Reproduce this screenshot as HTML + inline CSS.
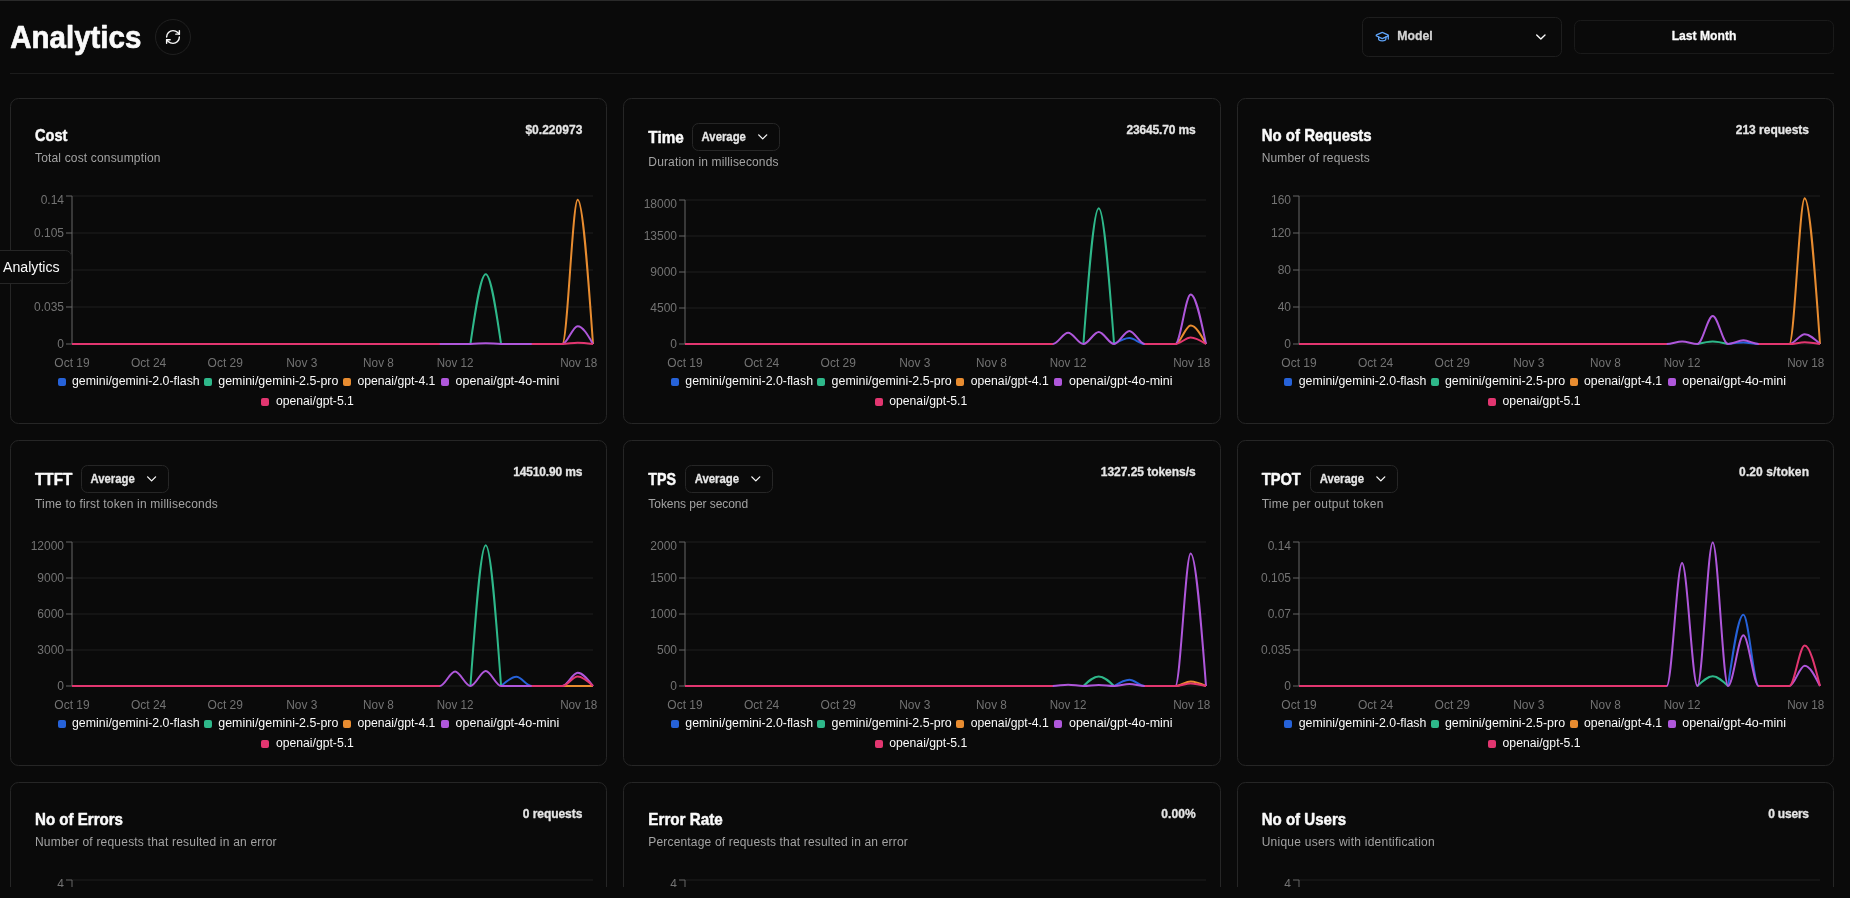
<!DOCTYPE html>
<html><head><meta charset="utf-8"><title>Analytics</title>
<style>html,body{margin:0;padding:0;background:#0a0a0a;overflow:hidden;width:1850px;height:898px}svg{display:block;will-change:transform}</style>
</head><body>
<svg width="1850" height="898" viewBox="0 0 1850 898" font-family="'Liberation Sans', sans-serif">
<rect width="1850" height="898" fill="#0a0a0a"/>
<rect width="1850" height="1" fill="#2a2a2a"/>
<text x="10.30" y="48.00" font-size="31" font-weight="700" fill="#fafafa" textLength="131.00" lengthAdjust="spacingAndGlyphs" stroke="#fafafa" stroke-width="0.7" stroke-linejoin="round">Analytics</text>
<circle cx="173" cy="37" r="17.5" fill="none" stroke="#202020"/>
<g transform="translate(164.50,28.50) scale(0.7083)" fill="none" stroke="#fafafa" stroke-width="2" stroke-linecap="round" stroke-linejoin="round"><path d="M3 12a9 9 0 0 1 9-9 9.75 9.75 0 0 1 6.74 2.74L21 8"/><path d="M21 3v5h-5"/><path d="M21 12a9 9 0 0 1-9 9 9.75 9.75 0 0 1-6.74-2.74L3 16"/><path d="M8 16H3v5"/></g>
<rect x="1362.5" y="17.5" width="199" height="39" rx="6" fill="none" stroke="#1e1e1e"/>
<g transform="translate(1375,29.45) scale(0.6042)" fill="none" stroke="#60a5fa" stroke-width="2.1" stroke-linecap="round" stroke-linejoin="round"><path d="M21.42 10.922a1 1 0 0 0-.019-1.838L12.83 5.18a2 2 0 0 0-1.66 0L2.6 9.08a1 1 0 0 0 0 1.832l8.57 3.908a2 2 0 0 0 1.66 0z"/><path d="M22 10v6"/><path d="M6 12.5V16a6 3 0 0 0 12 0v-3.5"/></g>
<text x="1397.30" y="40.10" font-size="12" font-weight="700" fill="#d4d4d4" textLength="35.40" lengthAdjust="spacingAndGlyphs" stroke="#d4d4d4" stroke-width="0.3" stroke-linejoin="round">Model</text>
<polyline points="1536.7,35 1540.85,39.1 1545,35" fill="none" stroke="#fafafa" stroke-width="1.35" stroke-linecap="round" stroke-linejoin="round"/>
<rect x="1574.5" y="20.5" width="259" height="33" rx="6" fill="none" stroke="#1a1a1a"/>
<text x="1704.00" y="40.10" font-size="12" font-weight="700" fill="#fafafa" text-anchor="middle" textLength="64.70" lengthAdjust="spacingAndGlyphs" stroke="#fafafa" stroke-width="0.3" stroke-linejoin="round">Last Month</text>
<rect x="10" y="73" width="1824" height="1" fill="#1c1c1c"/>
<defs><clipPath id="cl"><rect x="0" y="74" width="1850" height="813"/></clipPath></defs>
<g clip-path="url(#cl)">
<rect x="10.50" y="98.50" width="596.00" height="325" rx="8" fill="#0a0a0a" stroke="#262626"/>
<text x="35.00" y="141.00" font-size="17" font-weight="700" fill="#fafafa" textLength="32.40" lengthAdjust="spacingAndGlyphs" stroke="#fafafa" stroke-width="0.5" stroke-linejoin="round">Cost</text>
<text x="582.33" y="134.10" font-size="12" font-weight="700" fill="#e5e5e5" text-anchor="end" textLength="56.90" lengthAdjust="spacing" stroke="#e5e5e5" stroke-width="0.3" stroke-linejoin="round">$0.220973</text>
<text x="35.00" y="162.20" font-size="12" fill="#a3a3a3" textLength="125.50" lengthAdjust="spacing">Total cost consumption</text>
<line x1="72.00" y1="344.00" x2="593.00" y2="344.00" stroke="#1f1f1f"/>
<line x1="72.00" y1="307.00" x2="593.00" y2="307.00" stroke="#1f1f1f"/>
<line x1="72.00" y1="270.00" x2="593.00" y2="270.00" stroke="#1f1f1f"/>
<line x1="72.00" y1="233.00" x2="593.00" y2="233.00" stroke="#1f1f1f"/>
<line x1="72.00" y1="196.00" x2="593.00" y2="196.00" stroke="#1f1f1f"/>
<line x1="72.00" y1="196.00" x2="72.00" y2="344.00" stroke="#666666"/>
<line x1="66.00" y1="344.00" x2="72.00" y2="344.00" stroke="#666666"/>
<text x="64.00" y="348.30" font-size="12" fill="#737373" text-anchor="end">0</text>
<line x1="66.00" y1="307.00" x2="72.00" y2="307.00" stroke="#666666"/>
<text x="64.00" y="311.30" font-size="12" fill="#737373" text-anchor="end">0.035</text>
<line x1="66.00" y1="270.00" x2="72.00" y2="270.00" stroke="#666666"/>
<text x="64.00" y="274.30" font-size="12" fill="#737373" text-anchor="end">0.07</text>
<line x1="66.00" y1="233.00" x2="72.00" y2="233.00" stroke="#666666"/>
<text x="64.00" y="237.30" font-size="12" fill="#737373" text-anchor="end">0.105</text>
<line x1="66.00" y1="196.00" x2="72.00" y2="196.00" stroke="#666666"/>
<text x="64.00" y="204.30" font-size="12" fill="#737373" text-anchor="end">0.14</text>
<text x="72.00" y="367.00" font-size="12" fill="#737373" text-anchor="middle" textLength="35.30" lengthAdjust="spacingAndGlyphs">Oct 19</text>
<text x="148.62" y="367.00" font-size="12" fill="#737373" text-anchor="middle" textLength="35.40" lengthAdjust="spacingAndGlyphs">Oct 24</text>
<text x="225.24" y="367.00" font-size="12" fill="#737373" text-anchor="middle" textLength="35.30" lengthAdjust="spacingAndGlyphs">Oct 29</text>
<text x="301.85" y="367.00" font-size="12" fill="#737373" text-anchor="middle" textLength="31.20" lengthAdjust="spacingAndGlyphs">Nov 3</text>
<text x="378.47" y="367.00" font-size="12" fill="#737373" text-anchor="middle" textLength="30.70" lengthAdjust="spacingAndGlyphs">Nov 8</text>
<text x="455.09" y="367.00" font-size="12" fill="#737373" text-anchor="middle" textLength="36.70" lengthAdjust="spacingAndGlyphs">Nov 12</text>
<text x="578.68" y="367.00" font-size="12" fill="#737373" text-anchor="middle" textLength="37.10" lengthAdjust="spacingAndGlyphs">Nov 18</text>
<path d="M72.00,344.00C77.11,344.00 82.22,344.00 87.32,344.00C92.43,344.00 97.54,344.00 102.65,344.00C107.75,344.00 112.86,344.00 117.97,344.00C123.08,344.00 128.19,344.00 133.29,344.00C138.40,344.00 143.51,344.00 148.62,344.00C153.73,344.00 158.83,344.00 163.94,344.00C169.05,344.00 174.16,344.00 179.26,344.00C184.37,344.00 189.48,344.00 194.59,344.00C199.70,344.00 204.80,344.00 209.91,344.00C215.02,344.00 220.13,344.00 225.24,344.00C230.34,344.00 235.45,344.00 240.56,344.00C245.67,344.00 250.77,344.00 255.88,344.00C260.99,344.00 266.10,344.00 271.21,344.00C276.31,344.00 281.42,344.00 286.53,344.00C291.64,344.00 296.75,344.00 301.85,344.00C306.96,344.00 312.07,344.00 317.18,344.00C322.28,344.00 327.39,344.00 332.50,344.00C337.61,344.00 342.72,344.00 347.82,344.00C352.93,344.00 358.04,344.00 363.15,344.00C368.25,344.00 373.36,344.00 378.47,344.00C383.58,344.00 388.69,344.00 393.79,344.00C398.90,344.00 404.01,344.00 409.12,344.00C414.23,344.00 419.33,344.00 424.44,344.00C429.55,344.00 434.66,344.00 439.76,344.00" fill="none" stroke="#2662d9" stroke-width="2"/>
<path d="M501.06,344.00C506.17,344.00 511.27,344.00 516.38,344.00C521.49,344.00 526.60,344.00 531.71,344.00C536.81,344.00 541.92,344.00 547.03,344.00C552.14,344.00 557.25,344.00 562.35,344.00" fill="none" stroke="#2662d9" stroke-width="2"/>
<path d="M72.00,344.00C77.11,344.00 82.22,344.00 87.32,344.00C92.43,344.00 97.54,344.00 102.65,344.00C107.75,344.00 112.86,344.00 117.97,344.00C123.08,344.00 128.19,344.00 133.29,344.00C138.40,344.00 143.51,344.00 148.62,344.00C153.73,344.00 158.83,344.00 163.94,344.00C169.05,344.00 174.16,344.00 179.26,344.00C184.37,344.00 189.48,344.00 194.59,344.00C199.70,344.00 204.80,344.00 209.91,344.00C215.02,344.00 220.13,344.00 225.24,344.00C230.34,344.00 235.45,344.00 240.56,344.00C245.67,344.00 250.77,344.00 255.88,344.00C260.99,344.00 266.10,344.00 271.21,344.00C276.31,344.00 281.42,344.00 286.53,344.00C291.64,344.00 296.75,344.00 301.85,344.00C306.96,344.00 312.07,344.00 317.18,344.00C322.28,344.00 327.39,344.00 332.50,344.00C337.61,344.00 342.72,344.00 347.82,344.00C352.93,344.00 358.04,344.00 363.15,344.00C368.25,344.00 373.36,344.00 378.47,344.00C383.58,344.00 388.69,344.00 393.79,344.00C398.90,344.00 404.01,344.00 409.12,344.00C414.23,344.00 419.33,344.00 424.44,344.00C429.55,344.00 434.66,344.00 439.76,344.00" fill="none" stroke="#2eb88a" stroke-width="2"/>
<path d="M470.41,344.00C475.52,309.10 480.63,274.20 485.74,274.20C490.84,274.20 495.95,309.10 501.06,344.00" fill="none" stroke="#2eb88a" stroke-width="2"/>
<path d="M531.71,344.00C536.81,344.00 541.92,344.00 547.03,344.00C552.14,344.00 557.25,344.00 562.35,344.00" fill="none" stroke="#2eb88a" stroke-width="2"/>
<path d="M72.00,344.00C77.11,344.00 82.22,344.00 87.32,344.00C92.43,344.00 97.54,344.00 102.65,344.00C107.75,344.00 112.86,344.00 117.97,344.00C123.08,344.00 128.19,344.00 133.29,344.00C138.40,344.00 143.51,344.00 148.62,344.00C153.73,344.00 158.83,344.00 163.94,344.00C169.05,344.00 174.16,344.00 179.26,344.00C184.37,344.00 189.48,344.00 194.59,344.00C199.70,344.00 204.80,344.00 209.91,344.00C215.02,344.00 220.13,344.00 225.24,344.00C230.34,344.00 235.45,344.00 240.56,344.00C245.67,344.00 250.77,344.00 255.88,344.00C260.99,344.00 266.10,344.00 271.21,344.00C276.31,344.00 281.42,344.00 286.53,344.00C291.64,344.00 296.75,344.00 301.85,344.00C306.96,344.00 312.07,344.00 317.18,344.00C322.28,344.00 327.39,344.00 332.50,344.00C337.61,344.00 342.72,344.00 347.82,344.00C352.93,344.00 358.04,344.00 363.15,344.00C368.25,344.00 373.36,344.00 378.47,344.00C383.58,344.00 388.69,344.00 393.79,344.00C398.90,344.00 404.01,344.00 409.12,344.00C414.23,344.00 419.33,344.00 424.44,344.00C429.55,344.00 434.66,344.00 439.76,344.00" fill="none" stroke="#e88c30" stroke-width="2"/>
<path d="M531.71,344.00C536.81,344.00 541.92,344.00 547.03,344.00C552.14,344.00 557.25,344.00 562.35,344.00C567.46,344.00 572.57,199.80 577.68,199.80C582.78,199.80 587.89,271.90 593.00,344.00" fill="none" stroke="#e88c30" stroke-width="2"/>
<path d="M72.00,344.00C77.11,344.00 82.22,344.00 87.32,344.00C92.43,344.00 97.54,344.00 102.65,344.00C107.75,344.00 112.86,344.00 117.97,344.00C123.08,344.00 128.19,344.00 133.29,344.00C138.40,344.00 143.51,344.00 148.62,344.00C153.73,344.00 158.83,344.00 163.94,344.00C169.05,344.00 174.16,344.00 179.26,344.00C184.37,344.00 189.48,344.00 194.59,344.00C199.70,344.00 204.80,344.00 209.91,344.00C215.02,344.00 220.13,344.00 225.24,344.00C230.34,344.00 235.45,344.00 240.56,344.00C245.67,344.00 250.77,344.00 255.88,344.00C260.99,344.00 266.10,344.00 271.21,344.00C276.31,344.00 281.42,344.00 286.53,344.00C291.64,344.00 296.75,344.00 301.85,344.00C306.96,344.00 312.07,344.00 317.18,344.00C322.28,344.00 327.39,344.00 332.50,344.00C337.61,344.00 342.72,344.00 347.82,344.00C352.93,344.00 358.04,344.00 363.15,344.00C368.25,344.00 373.36,344.00 378.47,344.00C383.58,344.00 388.69,344.00 393.79,344.00C398.90,344.00 404.01,344.00 409.12,344.00C414.23,344.00 419.33,344.00 424.44,344.00C429.55,344.00 434.66,344.00 439.76,344.00C444.87,344.00 449.98,344.00 455.09,344.00C460.20,344.00 465.30,344.00 470.41,344.00C475.52,344.00 480.63,343.20 485.74,343.20C490.84,343.20 495.95,344.00 501.06,344.00C506.17,344.00 511.27,344.00 516.38,344.00C521.49,344.00 526.60,344.00 531.71,344.00C536.81,344.00 541.92,344.00 547.03,344.00C552.14,344.00 557.25,344.00 562.35,344.00C567.46,344.00 572.57,326.20 577.68,326.20C582.78,326.20 587.89,335.10 593.00,344.00" fill="none" stroke="#af57db" stroke-width="2"/>
<path d="M72.00,344.00C77.11,344.00 82.22,344.00 87.32,344.00C92.43,344.00 97.54,344.00 102.65,344.00C107.75,344.00 112.86,344.00 117.97,344.00C123.08,344.00 128.19,344.00 133.29,344.00C138.40,344.00 143.51,344.00 148.62,344.00C153.73,344.00 158.83,344.00 163.94,344.00C169.05,344.00 174.16,344.00 179.26,344.00C184.37,344.00 189.48,344.00 194.59,344.00C199.70,344.00 204.80,344.00 209.91,344.00C215.02,344.00 220.13,344.00 225.24,344.00C230.34,344.00 235.45,344.00 240.56,344.00C245.67,344.00 250.77,344.00 255.88,344.00C260.99,344.00 266.10,344.00 271.21,344.00C276.31,344.00 281.42,344.00 286.53,344.00C291.64,344.00 296.75,344.00 301.85,344.00C306.96,344.00 312.07,344.00 317.18,344.00C322.28,344.00 327.39,344.00 332.50,344.00C337.61,344.00 342.72,344.00 347.82,344.00C352.93,344.00 358.04,344.00 363.15,344.00C368.25,344.00 373.36,344.00 378.47,344.00C383.58,344.00 388.69,344.00 393.79,344.00C398.90,344.00 404.01,344.00 409.12,344.00C414.23,344.00 419.33,344.00 424.44,344.00C429.55,344.00 434.66,344.00 439.76,344.00" fill="none" stroke="#e23670" stroke-width="2"/>
<path d="M531.71,344.00C536.81,344.00 541.92,344.00 547.03,344.00C552.14,344.00 557.25,344.00 562.35,344.00C567.46,344.00 572.57,342.70 577.68,342.70C582.78,342.70 587.89,343.35 593.00,344.00" fill="none" stroke="#e23670" stroke-width="2"/>
<rect x="58.00" y="378.00" width="8" height="8" rx="2" fill="#2662d9"/>
<text x="72.00" y="385.00" font-size="12" fill="#fafafa" textLength="127.70" lengthAdjust="spacingAndGlyphs">gemini/gemini-2.0-flash</text>
<rect x="204.00" y="378.00" width="8" height="8" rx="2" fill="#2eb88a"/>
<text x="218.30" y="385.00" font-size="12" fill="#fafafa" textLength="120.10" lengthAdjust="spacingAndGlyphs">gemini/gemini-2.5-pro</text>
<rect x="343.00" y="378.00" width="8" height="8" rx="2" fill="#e88c30"/>
<text x="357.40" y="385.00" font-size="12" fill="#fafafa" textLength="78.00" lengthAdjust="spacingAndGlyphs">openai/gpt-4.1</text>
<rect x="441.00" y="378.00" width="8" height="8" rx="2" fill="#af57db"/>
<text x="455.60" y="385.00" font-size="12" fill="#fafafa" textLength="103.70" lengthAdjust="spacingAndGlyphs">openai/gpt-4o-mini</text>
<rect x="261.00" y="398.00" width="8" height="8" rx="2" fill="#e23670"/>
<text x="275.90" y="404.80" font-size="12" fill="#fafafa" textLength="78.00" lengthAdjust="spacingAndGlyphs">openai/gpt-5.1</text>
<rect x="623.50" y="98.50" width="597.00" height="325" rx="8" fill="#0a0a0a" stroke="#262626"/>
<text x="648.33" y="142.60" font-size="17" font-weight="700" fill="#fafafa" textLength="35.40" lengthAdjust="spacingAndGlyphs" stroke="#fafafa" stroke-width="0.5" stroke-linejoin="round">Time</text>
<text x="1195.67" y="134.10" font-size="12" font-weight="700" fill="#e5e5e5" text-anchor="end" textLength="69.20" lengthAdjust="spacing" stroke="#e5e5e5" stroke-width="0.3" stroke-linejoin="round">23645.70 ms</text>
<text x="648.33" y="165.80" font-size="12" fill="#a3a3a3" textLength="130.20" lengthAdjust="spacing">Duration in milliseconds</text>
<rect x="692.50" y="123.50" width="87" height="27" rx="6" fill="none" stroke="#262626"/>
<text x="701.60" y="141.00" font-size="12" font-weight="700" fill="#e5e5e5" textLength="44.30" lengthAdjust="spacingAndGlyphs" stroke="#e5e5e5" stroke-width="0.3" stroke-linejoin="round">Average</text>
<polyline points="758.70,134.90 762.70,138.90 766.70,134.90" fill="none" stroke="#fafafa" stroke-width="1.3" stroke-linecap="round" stroke-linejoin="round"/>
<line x1="685.00" y1="344.00" x2="1206.00" y2="344.00" stroke="#1f1f1f"/>
<line x1="685.00" y1="308.00" x2="1206.00" y2="308.00" stroke="#1f1f1f"/>
<line x1="685.00" y1="272.00" x2="1206.00" y2="272.00" stroke="#1f1f1f"/>
<line x1="685.00" y1="236.00" x2="1206.00" y2="236.00" stroke="#1f1f1f"/>
<line x1="685.00" y1="200.00" x2="1206.00" y2="200.00" stroke="#1f1f1f"/>
<line x1="685.00" y1="200.00" x2="685.00" y2="344.00" stroke="#666666"/>
<line x1="679.00" y1="344.00" x2="685.00" y2="344.00" stroke="#666666"/>
<text x="677.00" y="348.30" font-size="12" fill="#737373" text-anchor="end">0</text>
<line x1="679.00" y1="308.00" x2="685.00" y2="308.00" stroke="#666666"/>
<text x="677.00" y="312.30" font-size="12" fill="#737373" text-anchor="end">4500</text>
<line x1="679.00" y1="272.00" x2="685.00" y2="272.00" stroke="#666666"/>
<text x="677.00" y="276.30" font-size="12" fill="#737373" text-anchor="end">9000</text>
<line x1="679.00" y1="236.00" x2="685.00" y2="236.00" stroke="#666666"/>
<text x="677.00" y="240.30" font-size="12" fill="#737373" text-anchor="end">13500</text>
<line x1="679.00" y1="200.00" x2="685.00" y2="200.00" stroke="#666666"/>
<text x="677.00" y="208.30" font-size="12" fill="#737373" text-anchor="end">18000</text>
<text x="685.00" y="367.00" font-size="12" fill="#737373" text-anchor="middle" textLength="35.30" lengthAdjust="spacingAndGlyphs">Oct 19</text>
<text x="761.62" y="367.00" font-size="12" fill="#737373" text-anchor="middle" textLength="35.40" lengthAdjust="spacingAndGlyphs">Oct 24</text>
<text x="838.24" y="367.00" font-size="12" fill="#737373" text-anchor="middle" textLength="35.30" lengthAdjust="spacingAndGlyphs">Oct 29</text>
<text x="914.85" y="367.00" font-size="12" fill="#737373" text-anchor="middle" textLength="31.20" lengthAdjust="spacingAndGlyphs">Nov 3</text>
<text x="991.47" y="367.00" font-size="12" fill="#737373" text-anchor="middle" textLength="30.70" lengthAdjust="spacingAndGlyphs">Nov 8</text>
<text x="1068.09" y="367.00" font-size="12" fill="#737373" text-anchor="middle" textLength="36.70" lengthAdjust="spacingAndGlyphs">Nov 12</text>
<text x="1191.68" y="367.00" font-size="12" fill="#737373" text-anchor="middle" textLength="37.10" lengthAdjust="spacingAndGlyphs">Nov 18</text>
<path d="M685.00,344.00C690.11,344.00 695.22,344.00 700.32,344.00C705.43,344.00 710.54,344.00 715.65,344.00C720.75,344.00 725.86,344.00 730.97,344.00C736.08,344.00 741.19,344.00 746.29,344.00C751.40,344.00 756.51,344.00 761.62,344.00C766.73,344.00 771.83,344.00 776.94,344.00C782.05,344.00 787.16,344.00 792.26,344.00C797.37,344.00 802.48,344.00 807.59,344.00C812.70,344.00 817.80,344.00 822.91,344.00C828.02,344.00 833.13,344.00 838.24,344.00C843.34,344.00 848.45,344.00 853.56,344.00C858.67,344.00 863.77,344.00 868.88,344.00C873.99,344.00 879.10,344.00 884.21,344.00C889.31,344.00 894.42,344.00 899.53,344.00C904.64,344.00 909.75,344.00 914.85,344.00C919.96,344.00 925.07,344.00 930.18,344.00C935.28,344.00 940.39,344.00 945.50,344.00C950.61,344.00 955.72,344.00 960.82,344.00C965.93,344.00 971.04,344.00 976.15,344.00C981.25,344.00 986.36,344.00 991.47,344.00C996.58,344.00 1001.69,344.00 1006.79,344.00C1011.90,344.00 1017.01,344.00 1022.12,344.00C1027.23,344.00 1032.33,344.00 1037.44,344.00C1042.55,344.00 1047.66,344.00 1052.76,344.00" fill="none" stroke="#2662d9" stroke-width="2"/>
<path d="M1114.06,344.00C1119.17,341.05 1124.27,338.10 1129.38,338.10C1134.49,338.10 1139.60,344.00 1144.71,344.00C1149.81,344.00 1154.92,344.00 1160.03,344.00C1165.14,344.00 1170.25,344.00 1175.35,344.00" fill="none" stroke="#2662d9" stroke-width="2"/>
<path d="M685.00,344.00C690.11,344.00 695.22,344.00 700.32,344.00C705.43,344.00 710.54,344.00 715.65,344.00C720.75,344.00 725.86,344.00 730.97,344.00C736.08,344.00 741.19,344.00 746.29,344.00C751.40,344.00 756.51,344.00 761.62,344.00C766.73,344.00 771.83,344.00 776.94,344.00C782.05,344.00 787.16,344.00 792.26,344.00C797.37,344.00 802.48,344.00 807.59,344.00C812.70,344.00 817.80,344.00 822.91,344.00C828.02,344.00 833.13,344.00 838.24,344.00C843.34,344.00 848.45,344.00 853.56,344.00C858.67,344.00 863.77,344.00 868.88,344.00C873.99,344.00 879.10,344.00 884.21,344.00C889.31,344.00 894.42,344.00 899.53,344.00C904.64,344.00 909.75,344.00 914.85,344.00C919.96,344.00 925.07,344.00 930.18,344.00C935.28,344.00 940.39,344.00 945.50,344.00C950.61,344.00 955.72,344.00 960.82,344.00C965.93,344.00 971.04,344.00 976.15,344.00C981.25,344.00 986.36,344.00 991.47,344.00C996.58,344.00 1001.69,344.00 1006.79,344.00C1011.90,344.00 1017.01,344.00 1022.12,344.00C1027.23,344.00 1032.33,344.00 1037.44,344.00C1042.55,344.00 1047.66,344.00 1052.76,344.00" fill="none" stroke="#2eb88a" stroke-width="2"/>
<path d="M1083.41,344.00C1088.52,276.15 1093.63,208.30 1098.74,208.30C1103.84,208.30 1108.95,276.15 1114.06,344.00" fill="none" stroke="#2eb88a" stroke-width="2"/>
<path d="M1144.71,344.00C1149.81,344.00 1154.92,344.00 1160.03,344.00C1165.14,344.00 1170.25,344.00 1175.35,344.00" fill="none" stroke="#2eb88a" stroke-width="2"/>
<path d="M685.00,344.00C690.11,344.00 695.22,344.00 700.32,344.00C705.43,344.00 710.54,344.00 715.65,344.00C720.75,344.00 725.86,344.00 730.97,344.00C736.08,344.00 741.19,344.00 746.29,344.00C751.40,344.00 756.51,344.00 761.62,344.00C766.73,344.00 771.83,344.00 776.94,344.00C782.05,344.00 787.16,344.00 792.26,344.00C797.37,344.00 802.48,344.00 807.59,344.00C812.70,344.00 817.80,344.00 822.91,344.00C828.02,344.00 833.13,344.00 838.24,344.00C843.34,344.00 848.45,344.00 853.56,344.00C858.67,344.00 863.77,344.00 868.88,344.00C873.99,344.00 879.10,344.00 884.21,344.00C889.31,344.00 894.42,344.00 899.53,344.00C904.64,344.00 909.75,344.00 914.85,344.00C919.96,344.00 925.07,344.00 930.18,344.00C935.28,344.00 940.39,344.00 945.50,344.00C950.61,344.00 955.72,344.00 960.82,344.00C965.93,344.00 971.04,344.00 976.15,344.00C981.25,344.00 986.36,344.00 991.47,344.00C996.58,344.00 1001.69,344.00 1006.79,344.00C1011.90,344.00 1017.01,344.00 1022.12,344.00C1027.23,344.00 1032.33,344.00 1037.44,344.00C1042.55,344.00 1047.66,344.00 1052.76,344.00" fill="none" stroke="#e88c30" stroke-width="2"/>
<path d="M1144.71,344.00C1149.81,344.00 1154.92,344.00 1160.03,344.00C1165.14,344.00 1170.25,344.00 1175.35,344.00C1180.46,344.00 1185.57,325.60 1190.68,325.60C1195.78,325.60 1200.89,334.80 1206.00,344.00" fill="none" stroke="#e88c30" stroke-width="2"/>
<path d="M685.00,344.00C690.11,344.00 695.22,344.00 700.32,344.00C705.43,344.00 710.54,344.00 715.65,344.00C720.75,344.00 725.86,344.00 730.97,344.00C736.08,344.00 741.19,344.00 746.29,344.00C751.40,344.00 756.51,344.00 761.62,344.00C766.73,344.00 771.83,344.00 776.94,344.00C782.05,344.00 787.16,344.00 792.26,344.00C797.37,344.00 802.48,344.00 807.59,344.00C812.70,344.00 817.80,344.00 822.91,344.00C828.02,344.00 833.13,344.00 838.24,344.00C843.34,344.00 848.45,344.00 853.56,344.00C858.67,344.00 863.77,344.00 868.88,344.00C873.99,344.00 879.10,344.00 884.21,344.00C889.31,344.00 894.42,344.00 899.53,344.00C904.64,344.00 909.75,344.00 914.85,344.00C919.96,344.00 925.07,344.00 930.18,344.00C935.28,344.00 940.39,344.00 945.50,344.00C950.61,344.00 955.72,344.00 960.82,344.00C965.93,344.00 971.04,344.00 976.15,344.00C981.25,344.00 986.36,344.00 991.47,344.00C996.58,344.00 1001.69,344.00 1006.79,344.00C1011.90,344.00 1017.01,344.00 1022.12,344.00C1027.23,344.00 1032.33,344.00 1037.44,344.00C1042.55,344.00 1047.66,344.00 1052.76,344.00C1057.87,344.00 1062.98,332.70 1068.09,332.70C1073.20,332.70 1078.30,344.00 1083.41,344.00C1088.52,344.00 1093.63,332.00 1098.74,332.00C1103.84,332.00 1108.95,344.00 1114.06,344.00C1119.17,344.00 1124.27,330.90 1129.38,330.90C1134.49,330.90 1139.60,344.00 1144.71,344.00C1149.81,344.00 1154.92,344.00 1160.03,344.00C1165.14,344.00 1170.25,344.00 1175.35,344.00C1180.46,344.00 1185.57,294.40 1190.68,294.40C1195.78,294.40 1200.89,319.20 1206.00,344.00" fill="none" stroke="#af57db" stroke-width="2"/>
<path d="M685.00,344.00C690.11,344.00 695.22,344.00 700.32,344.00C705.43,344.00 710.54,344.00 715.65,344.00C720.75,344.00 725.86,344.00 730.97,344.00C736.08,344.00 741.19,344.00 746.29,344.00C751.40,344.00 756.51,344.00 761.62,344.00C766.73,344.00 771.83,344.00 776.94,344.00C782.05,344.00 787.16,344.00 792.26,344.00C797.37,344.00 802.48,344.00 807.59,344.00C812.70,344.00 817.80,344.00 822.91,344.00C828.02,344.00 833.13,344.00 838.24,344.00C843.34,344.00 848.45,344.00 853.56,344.00C858.67,344.00 863.77,344.00 868.88,344.00C873.99,344.00 879.10,344.00 884.21,344.00C889.31,344.00 894.42,344.00 899.53,344.00C904.64,344.00 909.75,344.00 914.85,344.00C919.96,344.00 925.07,344.00 930.18,344.00C935.28,344.00 940.39,344.00 945.50,344.00C950.61,344.00 955.72,344.00 960.82,344.00C965.93,344.00 971.04,344.00 976.15,344.00C981.25,344.00 986.36,344.00 991.47,344.00C996.58,344.00 1001.69,344.00 1006.79,344.00C1011.90,344.00 1017.01,344.00 1022.12,344.00C1027.23,344.00 1032.33,344.00 1037.44,344.00C1042.55,344.00 1047.66,344.00 1052.76,344.00" fill="none" stroke="#e23670" stroke-width="2"/>
<path d="M1144.71,344.00C1149.81,344.00 1154.92,344.00 1160.03,344.00C1165.14,344.00 1170.25,344.00 1175.35,344.00C1180.46,344.00 1185.57,337.50 1190.68,337.50C1195.78,337.50 1200.89,340.75 1206.00,344.00" fill="none" stroke="#e23670" stroke-width="2"/>
<rect x="671.00" y="378.00" width="8" height="8" rx="2" fill="#2662d9"/>
<text x="685.33" y="385.00" font-size="12" fill="#fafafa" textLength="127.70" lengthAdjust="spacingAndGlyphs">gemini/gemini-2.0-flash</text>
<rect x="817.00" y="378.00" width="8" height="8" rx="2" fill="#2eb88a"/>
<text x="831.63" y="385.00" font-size="12" fill="#fafafa" textLength="120.10" lengthAdjust="spacingAndGlyphs">gemini/gemini-2.5-pro</text>
<rect x="956.00" y="378.00" width="8" height="8" rx="2" fill="#e88c30"/>
<text x="970.73" y="385.00" font-size="12" fill="#fafafa" textLength="78.00" lengthAdjust="spacingAndGlyphs">openai/gpt-4.1</text>
<rect x="1054.00" y="378.00" width="8" height="8" rx="2" fill="#af57db"/>
<text x="1068.93" y="385.00" font-size="12" fill="#fafafa" textLength="103.70" lengthAdjust="spacingAndGlyphs">openai/gpt-4o-mini</text>
<rect x="875.00" y="398.00" width="8" height="8" rx="2" fill="#e23670"/>
<text x="889.23" y="404.80" font-size="12" fill="#fafafa" textLength="78.00" lengthAdjust="spacingAndGlyphs">openai/gpt-5.1</text>
<rect x="1237.50" y="98.50" width="596.00" height="325" rx="8" fill="#0a0a0a" stroke="#262626"/>
<text x="1261.67" y="141.00" font-size="17" font-weight="700" fill="#fafafa" textLength="110.00" lengthAdjust="spacingAndGlyphs" stroke="#fafafa" stroke-width="0.5" stroke-linejoin="round">No of Requests</text>
<text x="1809.00" y="134.10" font-size="12" font-weight="700" fill="#e5e5e5" text-anchor="end" textLength="73.20" lengthAdjust="spacing" stroke="#e5e5e5" stroke-width="0.3" stroke-linejoin="round">213 requests</text>
<text x="1261.67" y="162.20" font-size="12" fill="#a3a3a3" textLength="108.20" lengthAdjust="spacing">Number of requests</text>
<line x1="1299.00" y1="344.00" x2="1820.00" y2="344.00" stroke="#1f1f1f"/>
<line x1="1299.00" y1="307.00" x2="1820.00" y2="307.00" stroke="#1f1f1f"/>
<line x1="1299.00" y1="270.00" x2="1820.00" y2="270.00" stroke="#1f1f1f"/>
<line x1="1299.00" y1="233.00" x2="1820.00" y2="233.00" stroke="#1f1f1f"/>
<line x1="1299.00" y1="196.00" x2="1820.00" y2="196.00" stroke="#1f1f1f"/>
<line x1="1299.00" y1="196.00" x2="1299.00" y2="344.00" stroke="#666666"/>
<line x1="1293.00" y1="344.00" x2="1299.00" y2="344.00" stroke="#666666"/>
<text x="1291.00" y="348.30" font-size="12" fill="#737373" text-anchor="end">0</text>
<line x1="1293.00" y1="307.00" x2="1299.00" y2="307.00" stroke="#666666"/>
<text x="1291.00" y="311.30" font-size="12" fill="#737373" text-anchor="end">40</text>
<line x1="1293.00" y1="270.00" x2="1299.00" y2="270.00" stroke="#666666"/>
<text x="1291.00" y="274.30" font-size="12" fill="#737373" text-anchor="end">80</text>
<line x1="1293.00" y1="233.00" x2="1299.00" y2="233.00" stroke="#666666"/>
<text x="1291.00" y="237.30" font-size="12" fill="#737373" text-anchor="end">120</text>
<line x1="1293.00" y1="196.00" x2="1299.00" y2="196.00" stroke="#666666"/>
<text x="1291.00" y="204.30" font-size="12" fill="#737373" text-anchor="end">160</text>
<text x="1299.00" y="367.00" font-size="12" fill="#737373" text-anchor="middle" textLength="35.30" lengthAdjust="spacingAndGlyphs">Oct 19</text>
<text x="1375.62" y="367.00" font-size="12" fill="#737373" text-anchor="middle" textLength="35.40" lengthAdjust="spacingAndGlyphs">Oct 24</text>
<text x="1452.24" y="367.00" font-size="12" fill="#737373" text-anchor="middle" textLength="35.30" lengthAdjust="spacingAndGlyphs">Oct 29</text>
<text x="1528.85" y="367.00" font-size="12" fill="#737373" text-anchor="middle" textLength="31.20" lengthAdjust="spacingAndGlyphs">Nov 3</text>
<text x="1605.47" y="367.00" font-size="12" fill="#737373" text-anchor="middle" textLength="30.70" lengthAdjust="spacingAndGlyphs">Nov 8</text>
<text x="1682.09" y="367.00" font-size="12" fill="#737373" text-anchor="middle" textLength="36.70" lengthAdjust="spacingAndGlyphs">Nov 12</text>
<text x="1805.68" y="367.00" font-size="12" fill="#737373" text-anchor="middle" textLength="37.10" lengthAdjust="spacingAndGlyphs">Nov 18</text>
<path d="M1299.00,344.00C1304.11,344.00 1309.22,344.00 1314.32,344.00C1319.43,344.00 1324.54,344.00 1329.65,344.00C1334.75,344.00 1339.86,344.00 1344.97,344.00C1350.08,344.00 1355.19,344.00 1360.29,344.00C1365.40,344.00 1370.51,344.00 1375.62,344.00C1380.73,344.00 1385.83,344.00 1390.94,344.00C1396.05,344.00 1401.16,344.00 1406.26,344.00C1411.37,344.00 1416.48,344.00 1421.59,344.00C1426.70,344.00 1431.80,344.00 1436.91,344.00C1442.02,344.00 1447.13,344.00 1452.24,344.00C1457.34,344.00 1462.45,344.00 1467.56,344.00C1472.67,344.00 1477.77,344.00 1482.88,344.00C1487.99,344.00 1493.10,344.00 1498.21,344.00C1503.31,344.00 1508.42,344.00 1513.53,344.00C1518.64,344.00 1523.75,344.00 1528.85,344.00C1533.96,344.00 1539.07,344.00 1544.18,344.00C1549.28,344.00 1554.39,344.00 1559.50,344.00C1564.61,344.00 1569.72,344.00 1574.82,344.00C1579.93,344.00 1585.04,344.00 1590.15,344.00C1595.25,344.00 1600.36,344.00 1605.47,344.00C1610.58,344.00 1615.69,344.00 1620.79,344.00C1625.90,344.00 1631.01,344.00 1636.12,344.00C1641.23,344.00 1646.33,344.00 1651.44,344.00C1656.55,344.00 1661.66,344.00 1666.76,344.00" fill="none" stroke="#2662d9" stroke-width="2"/>
<path d="M1728.06,344.00C1733.17,343.25 1738.27,342.50 1743.38,342.50C1748.49,342.50 1753.60,344.00 1758.71,344.00C1763.81,344.00 1768.92,344.00 1774.03,344.00C1779.14,344.00 1784.25,344.00 1789.35,344.00" fill="none" stroke="#2662d9" stroke-width="2"/>
<path d="M1299.00,344.00C1304.11,344.00 1309.22,344.00 1314.32,344.00C1319.43,344.00 1324.54,344.00 1329.65,344.00C1334.75,344.00 1339.86,344.00 1344.97,344.00C1350.08,344.00 1355.19,344.00 1360.29,344.00C1365.40,344.00 1370.51,344.00 1375.62,344.00C1380.73,344.00 1385.83,344.00 1390.94,344.00C1396.05,344.00 1401.16,344.00 1406.26,344.00C1411.37,344.00 1416.48,344.00 1421.59,344.00C1426.70,344.00 1431.80,344.00 1436.91,344.00C1442.02,344.00 1447.13,344.00 1452.24,344.00C1457.34,344.00 1462.45,344.00 1467.56,344.00C1472.67,344.00 1477.77,344.00 1482.88,344.00C1487.99,344.00 1493.10,344.00 1498.21,344.00C1503.31,344.00 1508.42,344.00 1513.53,344.00C1518.64,344.00 1523.75,344.00 1528.85,344.00C1533.96,344.00 1539.07,344.00 1544.18,344.00C1549.28,344.00 1554.39,344.00 1559.50,344.00C1564.61,344.00 1569.72,344.00 1574.82,344.00C1579.93,344.00 1585.04,344.00 1590.15,344.00C1595.25,344.00 1600.36,344.00 1605.47,344.00C1610.58,344.00 1615.69,344.00 1620.79,344.00C1625.90,344.00 1631.01,344.00 1636.12,344.00C1641.23,344.00 1646.33,344.00 1651.44,344.00C1656.55,344.00 1661.66,344.00 1666.76,344.00" fill="none" stroke="#2eb88a" stroke-width="2"/>
<path d="M1697.41,344.00C1702.52,342.75 1707.63,341.50 1712.74,341.50C1717.84,341.50 1722.95,342.75 1728.06,344.00" fill="none" stroke="#2eb88a" stroke-width="2"/>
<path d="M1758.71,344.00C1763.81,344.00 1768.92,344.00 1774.03,344.00C1779.14,344.00 1784.25,344.00 1789.35,344.00" fill="none" stroke="#2eb88a" stroke-width="2"/>
<path d="M1299.00,344.00C1304.11,344.00 1309.22,344.00 1314.32,344.00C1319.43,344.00 1324.54,344.00 1329.65,344.00C1334.75,344.00 1339.86,344.00 1344.97,344.00C1350.08,344.00 1355.19,344.00 1360.29,344.00C1365.40,344.00 1370.51,344.00 1375.62,344.00C1380.73,344.00 1385.83,344.00 1390.94,344.00C1396.05,344.00 1401.16,344.00 1406.26,344.00C1411.37,344.00 1416.48,344.00 1421.59,344.00C1426.70,344.00 1431.80,344.00 1436.91,344.00C1442.02,344.00 1447.13,344.00 1452.24,344.00C1457.34,344.00 1462.45,344.00 1467.56,344.00C1472.67,344.00 1477.77,344.00 1482.88,344.00C1487.99,344.00 1493.10,344.00 1498.21,344.00C1503.31,344.00 1508.42,344.00 1513.53,344.00C1518.64,344.00 1523.75,344.00 1528.85,344.00C1533.96,344.00 1539.07,344.00 1544.18,344.00C1549.28,344.00 1554.39,344.00 1559.50,344.00C1564.61,344.00 1569.72,344.00 1574.82,344.00C1579.93,344.00 1585.04,344.00 1590.15,344.00C1595.25,344.00 1600.36,344.00 1605.47,344.00C1610.58,344.00 1615.69,344.00 1620.79,344.00C1625.90,344.00 1631.01,344.00 1636.12,344.00C1641.23,344.00 1646.33,344.00 1651.44,344.00C1656.55,344.00 1661.66,344.00 1666.76,344.00" fill="none" stroke="#e88c30" stroke-width="2"/>
<path d="M1758.71,344.00C1763.81,344.00 1768.92,344.00 1774.03,344.00C1779.14,344.00 1784.25,344.00 1789.35,344.00C1794.46,344.00 1799.57,198.20 1804.68,198.20C1809.78,198.20 1814.89,271.10 1820.00,344.00" fill="none" stroke="#e88c30" stroke-width="2"/>
<path d="M1299.00,344.00C1304.11,344.00 1309.22,344.00 1314.32,344.00C1319.43,344.00 1324.54,344.00 1329.65,344.00C1334.75,344.00 1339.86,344.00 1344.97,344.00C1350.08,344.00 1355.19,344.00 1360.29,344.00C1365.40,344.00 1370.51,344.00 1375.62,344.00C1380.73,344.00 1385.83,344.00 1390.94,344.00C1396.05,344.00 1401.16,344.00 1406.26,344.00C1411.37,344.00 1416.48,344.00 1421.59,344.00C1426.70,344.00 1431.80,344.00 1436.91,344.00C1442.02,344.00 1447.13,344.00 1452.24,344.00C1457.34,344.00 1462.45,344.00 1467.56,344.00C1472.67,344.00 1477.77,344.00 1482.88,344.00C1487.99,344.00 1493.10,344.00 1498.21,344.00C1503.31,344.00 1508.42,344.00 1513.53,344.00C1518.64,344.00 1523.75,344.00 1528.85,344.00C1533.96,344.00 1539.07,344.00 1544.18,344.00C1549.28,344.00 1554.39,344.00 1559.50,344.00C1564.61,344.00 1569.72,344.00 1574.82,344.00C1579.93,344.00 1585.04,344.00 1590.15,344.00C1595.25,344.00 1600.36,344.00 1605.47,344.00C1610.58,344.00 1615.69,344.00 1620.79,344.00C1625.90,344.00 1631.01,344.00 1636.12,344.00C1641.23,344.00 1646.33,344.00 1651.44,344.00C1656.55,344.00 1661.66,344.00 1666.76,344.00C1671.87,344.00 1676.98,341.50 1682.09,341.50C1687.20,341.50 1692.30,344.00 1697.41,344.00C1702.52,344.00 1707.63,316.00 1712.74,316.00C1717.84,316.00 1722.95,344.00 1728.06,344.00C1733.17,344.00 1738.27,340.30 1743.38,340.30C1748.49,340.30 1753.60,344.00 1758.71,344.00C1763.81,344.00 1768.92,344.00 1774.03,344.00C1779.14,344.00 1784.25,344.00 1789.35,344.00C1794.46,344.00 1799.57,334.20 1804.68,334.20C1809.78,334.20 1814.89,339.10 1820.00,344.00" fill="none" stroke="#af57db" stroke-width="2"/>
<path d="M1299.00,344.00C1304.11,344.00 1309.22,344.00 1314.32,344.00C1319.43,344.00 1324.54,344.00 1329.65,344.00C1334.75,344.00 1339.86,344.00 1344.97,344.00C1350.08,344.00 1355.19,344.00 1360.29,344.00C1365.40,344.00 1370.51,344.00 1375.62,344.00C1380.73,344.00 1385.83,344.00 1390.94,344.00C1396.05,344.00 1401.16,344.00 1406.26,344.00C1411.37,344.00 1416.48,344.00 1421.59,344.00C1426.70,344.00 1431.80,344.00 1436.91,344.00C1442.02,344.00 1447.13,344.00 1452.24,344.00C1457.34,344.00 1462.45,344.00 1467.56,344.00C1472.67,344.00 1477.77,344.00 1482.88,344.00C1487.99,344.00 1493.10,344.00 1498.21,344.00C1503.31,344.00 1508.42,344.00 1513.53,344.00C1518.64,344.00 1523.75,344.00 1528.85,344.00C1533.96,344.00 1539.07,344.00 1544.18,344.00C1549.28,344.00 1554.39,344.00 1559.50,344.00C1564.61,344.00 1569.72,344.00 1574.82,344.00C1579.93,344.00 1585.04,344.00 1590.15,344.00C1595.25,344.00 1600.36,344.00 1605.47,344.00C1610.58,344.00 1615.69,344.00 1620.79,344.00C1625.90,344.00 1631.01,344.00 1636.12,344.00C1641.23,344.00 1646.33,344.00 1651.44,344.00C1656.55,344.00 1661.66,344.00 1666.76,344.00" fill="none" stroke="#e23670" stroke-width="2"/>
<path d="M1758.71,344.00C1763.81,344.00 1768.92,344.00 1774.03,344.00C1779.14,344.00 1784.25,344.00 1789.35,344.00C1794.46,344.00 1799.57,342.30 1804.68,342.30C1809.78,342.30 1814.89,343.15 1820.00,344.00" fill="none" stroke="#e23670" stroke-width="2"/>
<rect x="1284.00" y="378.00" width="8" height="8" rx="2" fill="#2662d9"/>
<text x="1298.67" y="385.00" font-size="12" fill="#fafafa" textLength="127.70" lengthAdjust="spacingAndGlyphs">gemini/gemini-2.0-flash</text>
<rect x="1431.00" y="378.00" width="8" height="8" rx="2" fill="#2eb88a"/>
<text x="1444.97" y="385.00" font-size="12" fill="#fafafa" textLength="120.10" lengthAdjust="spacingAndGlyphs">gemini/gemini-2.5-pro</text>
<rect x="1570.00" y="378.00" width="8" height="8" rx="2" fill="#e88c30"/>
<text x="1584.07" y="385.00" font-size="12" fill="#fafafa" textLength="78.00" lengthAdjust="spacingAndGlyphs">openai/gpt-4.1</text>
<rect x="1668.00" y="378.00" width="8" height="8" rx="2" fill="#af57db"/>
<text x="1682.27" y="385.00" font-size="12" fill="#fafafa" textLength="103.70" lengthAdjust="spacingAndGlyphs">openai/gpt-4o-mini</text>
<rect x="1488.00" y="398.00" width="8" height="8" rx="2" fill="#e23670"/>
<text x="1502.57" y="404.80" font-size="12" fill="#fafafa" textLength="78.00" lengthAdjust="spacingAndGlyphs">openai/gpt-5.1</text>
<rect x="10.50" y="440.50" width="596.00" height="325" rx="8" fill="#0a0a0a" stroke="#262626"/>
<text x="35.00" y="484.60" font-size="17" font-weight="700" fill="#fafafa" textLength="37.40" lengthAdjust="spacingAndGlyphs" stroke="#fafafa" stroke-width="0.5" stroke-linejoin="round">TTFT</text>
<text x="582.33" y="476.10" font-size="12" font-weight="700" fill="#e5e5e5" text-anchor="end" textLength="69.20" lengthAdjust="spacing" stroke="#e5e5e5" stroke-width="0.3" stroke-linejoin="round">14510.90 ms</text>
<text x="35.00" y="507.80" font-size="12" fill="#a3a3a3" textLength="182.80" lengthAdjust="spacing">Time to first token in milliseconds</text>
<rect x="81.50" y="465.50" width="87" height="27" rx="6" fill="none" stroke="#262626"/>
<text x="90.50" y="483.00" font-size="12" font-weight="700" fill="#e5e5e5" textLength="44.30" lengthAdjust="spacingAndGlyphs" stroke="#e5e5e5" stroke-width="0.3" stroke-linejoin="round">Average</text>
<polyline points="147.60,476.90 151.60,480.90 155.60,476.90" fill="none" stroke="#fafafa" stroke-width="1.3" stroke-linecap="round" stroke-linejoin="round"/>
<line x1="72.00" y1="686.00" x2="593.00" y2="686.00" stroke="#1f1f1f"/>
<line x1="72.00" y1="650.00" x2="593.00" y2="650.00" stroke="#1f1f1f"/>
<line x1="72.00" y1="614.00" x2="593.00" y2="614.00" stroke="#1f1f1f"/>
<line x1="72.00" y1="578.00" x2="593.00" y2="578.00" stroke="#1f1f1f"/>
<line x1="72.00" y1="542.00" x2="593.00" y2="542.00" stroke="#1f1f1f"/>
<line x1="72.00" y1="542.00" x2="72.00" y2="686.00" stroke="#666666"/>
<line x1="66.00" y1="686.00" x2="72.00" y2="686.00" stroke="#666666"/>
<text x="64.00" y="690.30" font-size="12" fill="#737373" text-anchor="end">0</text>
<line x1="66.00" y1="650.00" x2="72.00" y2="650.00" stroke="#666666"/>
<text x="64.00" y="654.30" font-size="12" fill="#737373" text-anchor="end">3000</text>
<line x1="66.00" y1="614.00" x2="72.00" y2="614.00" stroke="#666666"/>
<text x="64.00" y="618.30" font-size="12" fill="#737373" text-anchor="end">6000</text>
<line x1="66.00" y1="578.00" x2="72.00" y2="578.00" stroke="#666666"/>
<text x="64.00" y="582.30" font-size="12" fill="#737373" text-anchor="end">9000</text>
<line x1="66.00" y1="542.00" x2="72.00" y2="542.00" stroke="#666666"/>
<text x="64.00" y="550.30" font-size="12" fill="#737373" text-anchor="end">12000</text>
<text x="72.00" y="709.00" font-size="12" fill="#737373" text-anchor="middle" textLength="35.30" lengthAdjust="spacingAndGlyphs">Oct 19</text>
<text x="148.62" y="709.00" font-size="12" fill="#737373" text-anchor="middle" textLength="35.40" lengthAdjust="spacingAndGlyphs">Oct 24</text>
<text x="225.24" y="709.00" font-size="12" fill="#737373" text-anchor="middle" textLength="35.30" lengthAdjust="spacingAndGlyphs">Oct 29</text>
<text x="301.85" y="709.00" font-size="12" fill="#737373" text-anchor="middle" textLength="31.20" lengthAdjust="spacingAndGlyphs">Nov 3</text>
<text x="378.47" y="709.00" font-size="12" fill="#737373" text-anchor="middle" textLength="30.70" lengthAdjust="spacingAndGlyphs">Nov 8</text>
<text x="455.09" y="709.00" font-size="12" fill="#737373" text-anchor="middle" textLength="36.70" lengthAdjust="spacingAndGlyphs">Nov 12</text>
<text x="578.68" y="709.00" font-size="12" fill="#737373" text-anchor="middle" textLength="37.10" lengthAdjust="spacingAndGlyphs">Nov 18</text>
<path d="M72.00,686.00C77.11,686.00 82.22,686.00 87.32,686.00C92.43,686.00 97.54,686.00 102.65,686.00C107.75,686.00 112.86,686.00 117.97,686.00C123.08,686.00 128.19,686.00 133.29,686.00C138.40,686.00 143.51,686.00 148.62,686.00C153.73,686.00 158.83,686.00 163.94,686.00C169.05,686.00 174.16,686.00 179.26,686.00C184.37,686.00 189.48,686.00 194.59,686.00C199.70,686.00 204.80,686.00 209.91,686.00C215.02,686.00 220.13,686.00 225.24,686.00C230.34,686.00 235.45,686.00 240.56,686.00C245.67,686.00 250.77,686.00 255.88,686.00C260.99,686.00 266.10,686.00 271.21,686.00C276.31,686.00 281.42,686.00 286.53,686.00C291.64,686.00 296.75,686.00 301.85,686.00C306.96,686.00 312.07,686.00 317.18,686.00C322.28,686.00 327.39,686.00 332.50,686.00C337.61,686.00 342.72,686.00 347.82,686.00C352.93,686.00 358.04,686.00 363.15,686.00C368.25,686.00 373.36,686.00 378.47,686.00C383.58,686.00 388.69,686.00 393.79,686.00C398.90,686.00 404.01,686.00 409.12,686.00C414.23,686.00 419.33,686.00 424.44,686.00C429.55,686.00 434.66,686.00 439.76,686.00" fill="none" stroke="#2662d9" stroke-width="2"/>
<path d="M501.06,686.00C506.17,681.40 511.27,676.80 516.38,676.80C521.49,676.80 526.60,686.00 531.71,686.00C536.81,686.00 541.92,686.00 547.03,686.00C552.14,686.00 557.25,686.00 562.35,686.00" fill="none" stroke="#2662d9" stroke-width="2"/>
<path d="M72.00,686.00C77.11,686.00 82.22,686.00 87.32,686.00C92.43,686.00 97.54,686.00 102.65,686.00C107.75,686.00 112.86,686.00 117.97,686.00C123.08,686.00 128.19,686.00 133.29,686.00C138.40,686.00 143.51,686.00 148.62,686.00C153.73,686.00 158.83,686.00 163.94,686.00C169.05,686.00 174.16,686.00 179.26,686.00C184.37,686.00 189.48,686.00 194.59,686.00C199.70,686.00 204.80,686.00 209.91,686.00C215.02,686.00 220.13,686.00 225.24,686.00C230.34,686.00 235.45,686.00 240.56,686.00C245.67,686.00 250.77,686.00 255.88,686.00C260.99,686.00 266.10,686.00 271.21,686.00C276.31,686.00 281.42,686.00 286.53,686.00C291.64,686.00 296.75,686.00 301.85,686.00C306.96,686.00 312.07,686.00 317.18,686.00C322.28,686.00 327.39,686.00 332.50,686.00C337.61,686.00 342.72,686.00 347.82,686.00C352.93,686.00 358.04,686.00 363.15,686.00C368.25,686.00 373.36,686.00 378.47,686.00C383.58,686.00 388.69,686.00 393.79,686.00C398.90,686.00 404.01,686.00 409.12,686.00C414.23,686.00 419.33,686.00 424.44,686.00C429.55,686.00 434.66,686.00 439.76,686.00" fill="none" stroke="#2eb88a" stroke-width="2"/>
<path d="M470.41,686.00C475.52,615.65 480.63,545.30 485.74,545.30C490.84,545.30 495.95,615.65 501.06,686.00" fill="none" stroke="#2eb88a" stroke-width="2"/>
<path d="M531.71,686.00C536.81,686.00 541.92,686.00 547.03,686.00C552.14,686.00 557.25,686.00 562.35,686.00" fill="none" stroke="#2eb88a" stroke-width="2"/>
<path d="M72.00,686.00C77.11,686.00 82.22,686.00 87.32,686.00C92.43,686.00 97.54,686.00 102.65,686.00C107.75,686.00 112.86,686.00 117.97,686.00C123.08,686.00 128.19,686.00 133.29,686.00C138.40,686.00 143.51,686.00 148.62,686.00C153.73,686.00 158.83,686.00 163.94,686.00C169.05,686.00 174.16,686.00 179.26,686.00C184.37,686.00 189.48,686.00 194.59,686.00C199.70,686.00 204.80,686.00 209.91,686.00C215.02,686.00 220.13,686.00 225.24,686.00C230.34,686.00 235.45,686.00 240.56,686.00C245.67,686.00 250.77,686.00 255.88,686.00C260.99,686.00 266.10,686.00 271.21,686.00C276.31,686.00 281.42,686.00 286.53,686.00C291.64,686.00 296.75,686.00 301.85,686.00C306.96,686.00 312.07,686.00 317.18,686.00C322.28,686.00 327.39,686.00 332.50,686.00C337.61,686.00 342.72,686.00 347.82,686.00C352.93,686.00 358.04,686.00 363.15,686.00C368.25,686.00 373.36,686.00 378.47,686.00C383.58,686.00 388.69,686.00 393.79,686.00C398.90,686.00 404.01,686.00 409.12,686.00C414.23,686.00 419.33,686.00 424.44,686.00C429.55,686.00 434.66,686.00 439.76,686.00" fill="none" stroke="#e88c30" stroke-width="2"/>
<path d="M531.71,686.00C536.81,686.00 541.92,686.00 547.03,686.00C552.14,686.00 557.25,686.00 562.35,686.00C567.46,686.00 572.57,686.00 577.68,686.00C582.78,686.00 587.89,686.00 593.00,686.00" fill="none" stroke="#e88c30" stroke-width="2"/>
<path d="M72.00,686.00C77.11,686.00 82.22,686.00 87.32,686.00C92.43,686.00 97.54,686.00 102.65,686.00C107.75,686.00 112.86,686.00 117.97,686.00C123.08,686.00 128.19,686.00 133.29,686.00C138.40,686.00 143.51,686.00 148.62,686.00C153.73,686.00 158.83,686.00 163.94,686.00C169.05,686.00 174.16,686.00 179.26,686.00C184.37,686.00 189.48,686.00 194.59,686.00C199.70,686.00 204.80,686.00 209.91,686.00C215.02,686.00 220.13,686.00 225.24,686.00C230.34,686.00 235.45,686.00 240.56,686.00C245.67,686.00 250.77,686.00 255.88,686.00C260.99,686.00 266.10,686.00 271.21,686.00C276.31,686.00 281.42,686.00 286.53,686.00C291.64,686.00 296.75,686.00 301.85,686.00C306.96,686.00 312.07,686.00 317.18,686.00C322.28,686.00 327.39,686.00 332.50,686.00C337.61,686.00 342.72,686.00 347.82,686.00C352.93,686.00 358.04,686.00 363.15,686.00C368.25,686.00 373.36,686.00 378.47,686.00C383.58,686.00 388.69,686.00 393.79,686.00C398.90,686.00 404.01,686.00 409.12,686.00C414.23,686.00 419.33,686.00 424.44,686.00C429.55,686.00 434.66,686.00 439.76,686.00C444.87,686.00 449.98,671.50 455.09,671.50C460.20,671.50 465.30,686.00 470.41,686.00C475.52,686.00 480.63,671.00 485.74,671.00C490.84,671.00 495.95,686.00 501.06,686.00C506.17,686.00 511.27,686.00 516.38,686.00C521.49,686.00 526.60,686.00 531.71,686.00C536.81,686.00 541.92,686.00 547.03,686.00C552.14,686.00 557.25,686.00 562.35,686.00C567.46,686.00 572.57,672.80 577.68,672.80C582.78,672.80 587.89,679.40 593.00,686.00" fill="none" stroke="#af57db" stroke-width="2"/>
<path d="M72.00,686.00C77.11,686.00 82.22,686.00 87.32,686.00C92.43,686.00 97.54,686.00 102.65,686.00C107.75,686.00 112.86,686.00 117.97,686.00C123.08,686.00 128.19,686.00 133.29,686.00C138.40,686.00 143.51,686.00 148.62,686.00C153.73,686.00 158.83,686.00 163.94,686.00C169.05,686.00 174.16,686.00 179.26,686.00C184.37,686.00 189.48,686.00 194.59,686.00C199.70,686.00 204.80,686.00 209.91,686.00C215.02,686.00 220.13,686.00 225.24,686.00C230.34,686.00 235.45,686.00 240.56,686.00C245.67,686.00 250.77,686.00 255.88,686.00C260.99,686.00 266.10,686.00 271.21,686.00C276.31,686.00 281.42,686.00 286.53,686.00C291.64,686.00 296.75,686.00 301.85,686.00C306.96,686.00 312.07,686.00 317.18,686.00C322.28,686.00 327.39,686.00 332.50,686.00C337.61,686.00 342.72,686.00 347.82,686.00C352.93,686.00 358.04,686.00 363.15,686.00C368.25,686.00 373.36,686.00 378.47,686.00C383.58,686.00 388.69,686.00 393.79,686.00C398.90,686.00 404.01,686.00 409.12,686.00C414.23,686.00 419.33,686.00 424.44,686.00C429.55,686.00 434.66,686.00 439.76,686.00" fill="none" stroke="#e23670" stroke-width="2"/>
<path d="M531.71,686.00C536.81,686.00 541.92,686.00 547.03,686.00C552.14,686.00 557.25,686.00 562.35,686.00C567.46,686.00 572.57,676.60 577.68,676.60C582.78,676.60 587.89,681.30 593.00,686.00" fill="none" stroke="#e23670" stroke-width="2"/>
<rect x="58.00" y="720.00" width="8" height="8" rx="2" fill="#2662d9"/>
<text x="72.00" y="727.00" font-size="12" fill="#fafafa" textLength="127.70" lengthAdjust="spacingAndGlyphs">gemini/gemini-2.0-flash</text>
<rect x="204.00" y="720.00" width="8" height="8" rx="2" fill="#2eb88a"/>
<text x="218.30" y="727.00" font-size="12" fill="#fafafa" textLength="120.10" lengthAdjust="spacingAndGlyphs">gemini/gemini-2.5-pro</text>
<rect x="343.00" y="720.00" width="8" height="8" rx="2" fill="#e88c30"/>
<text x="357.40" y="727.00" font-size="12" fill="#fafafa" textLength="78.00" lengthAdjust="spacingAndGlyphs">openai/gpt-4.1</text>
<rect x="441.00" y="720.00" width="8" height="8" rx="2" fill="#af57db"/>
<text x="455.60" y="727.00" font-size="12" fill="#fafafa" textLength="103.70" lengthAdjust="spacingAndGlyphs">openai/gpt-4o-mini</text>
<rect x="261.00" y="740.00" width="8" height="8" rx="2" fill="#e23670"/>
<text x="275.90" y="746.80" font-size="12" fill="#fafafa" textLength="78.00" lengthAdjust="spacingAndGlyphs">openai/gpt-5.1</text>
<rect x="623.50" y="440.50" width="597.00" height="325" rx="8" fill="#0a0a0a" stroke="#262626"/>
<text x="648.33" y="484.60" font-size="17" font-weight="700" fill="#fafafa" textLength="27.70" lengthAdjust="spacingAndGlyphs" stroke="#fafafa" stroke-width="0.5" stroke-linejoin="round">TPS</text>
<text x="1195.67" y="476.10" font-size="12" font-weight="700" fill="#e5e5e5" text-anchor="end" textLength="94.90" lengthAdjust="spacing" stroke="#e5e5e5" stroke-width="0.3" stroke-linejoin="round">1327.25 tokens/s</text>
<text x="648.33" y="507.80" font-size="12" fill="#a3a3a3" textLength="99.80" lengthAdjust="spacing">Tokens per second</text>
<rect x="685.50" y="465.50" width="87" height="27" rx="6" fill="none" stroke="#262626"/>
<text x="694.70" y="483.00" font-size="12" font-weight="700" fill="#e5e5e5" textLength="44.30" lengthAdjust="spacingAndGlyphs" stroke="#e5e5e5" stroke-width="0.3" stroke-linejoin="round">Average</text>
<polyline points="751.80,476.90 755.80,480.90 759.80,476.90" fill="none" stroke="#fafafa" stroke-width="1.3" stroke-linecap="round" stroke-linejoin="round"/>
<line x1="685.00" y1="686.00" x2="1206.00" y2="686.00" stroke="#1f1f1f"/>
<line x1="685.00" y1="650.00" x2="1206.00" y2="650.00" stroke="#1f1f1f"/>
<line x1="685.00" y1="614.00" x2="1206.00" y2="614.00" stroke="#1f1f1f"/>
<line x1="685.00" y1="578.00" x2="1206.00" y2="578.00" stroke="#1f1f1f"/>
<line x1="685.00" y1="542.00" x2="1206.00" y2="542.00" stroke="#1f1f1f"/>
<line x1="685.00" y1="542.00" x2="685.00" y2="686.00" stroke="#666666"/>
<line x1="679.00" y1="686.00" x2="685.00" y2="686.00" stroke="#666666"/>
<text x="677.00" y="690.30" font-size="12" fill="#737373" text-anchor="end">0</text>
<line x1="679.00" y1="650.00" x2="685.00" y2="650.00" stroke="#666666"/>
<text x="677.00" y="654.30" font-size="12" fill="#737373" text-anchor="end">500</text>
<line x1="679.00" y1="614.00" x2="685.00" y2="614.00" stroke="#666666"/>
<text x="677.00" y="618.30" font-size="12" fill="#737373" text-anchor="end">1000</text>
<line x1="679.00" y1="578.00" x2="685.00" y2="578.00" stroke="#666666"/>
<text x="677.00" y="582.30" font-size="12" fill="#737373" text-anchor="end">1500</text>
<line x1="679.00" y1="542.00" x2="685.00" y2="542.00" stroke="#666666"/>
<text x="677.00" y="550.30" font-size="12" fill="#737373" text-anchor="end">2000</text>
<text x="685.00" y="709.00" font-size="12" fill="#737373" text-anchor="middle" textLength="35.30" lengthAdjust="spacingAndGlyphs">Oct 19</text>
<text x="761.62" y="709.00" font-size="12" fill="#737373" text-anchor="middle" textLength="35.40" lengthAdjust="spacingAndGlyphs">Oct 24</text>
<text x="838.24" y="709.00" font-size="12" fill="#737373" text-anchor="middle" textLength="35.30" lengthAdjust="spacingAndGlyphs">Oct 29</text>
<text x="914.85" y="709.00" font-size="12" fill="#737373" text-anchor="middle" textLength="31.20" lengthAdjust="spacingAndGlyphs">Nov 3</text>
<text x="991.47" y="709.00" font-size="12" fill="#737373" text-anchor="middle" textLength="30.70" lengthAdjust="spacingAndGlyphs">Nov 8</text>
<text x="1068.09" y="709.00" font-size="12" fill="#737373" text-anchor="middle" textLength="36.70" lengthAdjust="spacingAndGlyphs">Nov 12</text>
<text x="1191.68" y="709.00" font-size="12" fill="#737373" text-anchor="middle" textLength="37.10" lengthAdjust="spacingAndGlyphs">Nov 18</text>
<path d="M685.00,686.00C690.11,686.00 695.22,686.00 700.32,686.00C705.43,686.00 710.54,686.00 715.65,686.00C720.75,686.00 725.86,686.00 730.97,686.00C736.08,686.00 741.19,686.00 746.29,686.00C751.40,686.00 756.51,686.00 761.62,686.00C766.73,686.00 771.83,686.00 776.94,686.00C782.05,686.00 787.16,686.00 792.26,686.00C797.37,686.00 802.48,686.00 807.59,686.00C812.70,686.00 817.80,686.00 822.91,686.00C828.02,686.00 833.13,686.00 838.24,686.00C843.34,686.00 848.45,686.00 853.56,686.00C858.67,686.00 863.77,686.00 868.88,686.00C873.99,686.00 879.10,686.00 884.21,686.00C889.31,686.00 894.42,686.00 899.53,686.00C904.64,686.00 909.75,686.00 914.85,686.00C919.96,686.00 925.07,686.00 930.18,686.00C935.28,686.00 940.39,686.00 945.50,686.00C950.61,686.00 955.72,686.00 960.82,686.00C965.93,686.00 971.04,686.00 976.15,686.00C981.25,686.00 986.36,686.00 991.47,686.00C996.58,686.00 1001.69,686.00 1006.79,686.00C1011.90,686.00 1017.01,686.00 1022.12,686.00C1027.23,686.00 1032.33,686.00 1037.44,686.00C1042.55,686.00 1047.66,686.00 1052.76,686.00" fill="none" stroke="#2662d9" stroke-width="2"/>
<path d="M1114.06,686.00C1119.17,682.85 1124.27,679.70 1129.38,679.70C1134.49,679.70 1139.60,686.00 1144.71,686.00C1149.81,686.00 1154.92,686.00 1160.03,686.00C1165.14,686.00 1170.25,686.00 1175.35,686.00" fill="none" stroke="#2662d9" stroke-width="2"/>
<path d="M685.00,686.00C690.11,686.00 695.22,686.00 700.32,686.00C705.43,686.00 710.54,686.00 715.65,686.00C720.75,686.00 725.86,686.00 730.97,686.00C736.08,686.00 741.19,686.00 746.29,686.00C751.40,686.00 756.51,686.00 761.62,686.00C766.73,686.00 771.83,686.00 776.94,686.00C782.05,686.00 787.16,686.00 792.26,686.00C797.37,686.00 802.48,686.00 807.59,686.00C812.70,686.00 817.80,686.00 822.91,686.00C828.02,686.00 833.13,686.00 838.24,686.00C843.34,686.00 848.45,686.00 853.56,686.00C858.67,686.00 863.77,686.00 868.88,686.00C873.99,686.00 879.10,686.00 884.21,686.00C889.31,686.00 894.42,686.00 899.53,686.00C904.64,686.00 909.75,686.00 914.85,686.00C919.96,686.00 925.07,686.00 930.18,686.00C935.28,686.00 940.39,686.00 945.50,686.00C950.61,686.00 955.72,686.00 960.82,686.00C965.93,686.00 971.04,686.00 976.15,686.00C981.25,686.00 986.36,686.00 991.47,686.00C996.58,686.00 1001.69,686.00 1006.79,686.00C1011.90,686.00 1017.01,686.00 1022.12,686.00C1027.23,686.00 1032.33,686.00 1037.44,686.00C1042.55,686.00 1047.66,686.00 1052.76,686.00" fill="none" stroke="#2eb88a" stroke-width="2"/>
<path d="M1083.41,686.00C1088.52,681.20 1093.63,676.40 1098.74,676.40C1103.84,676.40 1108.95,681.20 1114.06,686.00" fill="none" stroke="#2eb88a" stroke-width="2"/>
<path d="M1144.71,686.00C1149.81,686.00 1154.92,686.00 1160.03,686.00C1165.14,686.00 1170.25,686.00 1175.35,686.00" fill="none" stroke="#2eb88a" stroke-width="2"/>
<path d="M685.00,686.00C690.11,686.00 695.22,686.00 700.32,686.00C705.43,686.00 710.54,686.00 715.65,686.00C720.75,686.00 725.86,686.00 730.97,686.00C736.08,686.00 741.19,686.00 746.29,686.00C751.40,686.00 756.51,686.00 761.62,686.00C766.73,686.00 771.83,686.00 776.94,686.00C782.05,686.00 787.16,686.00 792.26,686.00C797.37,686.00 802.48,686.00 807.59,686.00C812.70,686.00 817.80,686.00 822.91,686.00C828.02,686.00 833.13,686.00 838.24,686.00C843.34,686.00 848.45,686.00 853.56,686.00C858.67,686.00 863.77,686.00 868.88,686.00C873.99,686.00 879.10,686.00 884.21,686.00C889.31,686.00 894.42,686.00 899.53,686.00C904.64,686.00 909.75,686.00 914.85,686.00C919.96,686.00 925.07,686.00 930.18,686.00C935.28,686.00 940.39,686.00 945.50,686.00C950.61,686.00 955.72,686.00 960.82,686.00C965.93,686.00 971.04,686.00 976.15,686.00C981.25,686.00 986.36,686.00 991.47,686.00C996.58,686.00 1001.69,686.00 1006.79,686.00C1011.90,686.00 1017.01,686.00 1022.12,686.00C1027.23,686.00 1032.33,686.00 1037.44,686.00C1042.55,686.00 1047.66,686.00 1052.76,686.00" fill="none" stroke="#e88c30" stroke-width="2"/>
<path d="M1144.71,686.00C1149.81,686.00 1154.92,686.00 1160.03,686.00C1165.14,686.00 1170.25,686.00 1175.35,686.00C1180.46,686.00 1185.57,681.50 1190.68,681.50C1195.78,681.50 1200.89,683.75 1206.00,686.00" fill="none" stroke="#e88c30" stroke-width="2"/>
<path d="M685.00,686.00C690.11,686.00 695.22,686.00 700.32,686.00C705.43,686.00 710.54,686.00 715.65,686.00C720.75,686.00 725.86,686.00 730.97,686.00C736.08,686.00 741.19,686.00 746.29,686.00C751.40,686.00 756.51,686.00 761.62,686.00C766.73,686.00 771.83,686.00 776.94,686.00C782.05,686.00 787.16,686.00 792.26,686.00C797.37,686.00 802.48,686.00 807.59,686.00C812.70,686.00 817.80,686.00 822.91,686.00C828.02,686.00 833.13,686.00 838.24,686.00C843.34,686.00 848.45,686.00 853.56,686.00C858.67,686.00 863.77,686.00 868.88,686.00C873.99,686.00 879.10,686.00 884.21,686.00C889.31,686.00 894.42,686.00 899.53,686.00C904.64,686.00 909.75,686.00 914.85,686.00C919.96,686.00 925.07,686.00 930.18,686.00C935.28,686.00 940.39,686.00 945.50,686.00C950.61,686.00 955.72,686.00 960.82,686.00C965.93,686.00 971.04,686.00 976.15,686.00C981.25,686.00 986.36,686.00 991.47,686.00C996.58,686.00 1001.69,686.00 1006.79,686.00C1011.90,686.00 1017.01,686.00 1022.12,686.00C1027.23,686.00 1032.33,686.00 1037.44,686.00C1042.55,686.00 1047.66,686.00 1052.76,686.00C1057.87,686.00 1062.98,684.70 1068.09,684.70C1073.20,684.70 1078.30,686.00 1083.41,686.00C1088.52,686.00 1093.63,685.00 1098.74,685.00C1103.84,685.00 1108.95,686.00 1114.06,686.00C1119.17,686.00 1124.27,683.90 1129.38,683.90C1134.49,683.90 1139.60,686.00 1144.71,686.00C1149.81,686.00 1154.92,686.00 1160.03,686.00C1165.14,686.00 1170.25,686.00 1175.35,686.00C1180.46,686.00 1185.57,553.50 1190.68,553.50C1195.78,553.50 1200.89,619.75 1206.00,686.00" fill="none" stroke="#af57db" stroke-width="2"/>
<path d="M685.00,686.00C690.11,686.00 695.22,686.00 700.32,686.00C705.43,686.00 710.54,686.00 715.65,686.00C720.75,686.00 725.86,686.00 730.97,686.00C736.08,686.00 741.19,686.00 746.29,686.00C751.40,686.00 756.51,686.00 761.62,686.00C766.73,686.00 771.83,686.00 776.94,686.00C782.05,686.00 787.16,686.00 792.26,686.00C797.37,686.00 802.48,686.00 807.59,686.00C812.70,686.00 817.80,686.00 822.91,686.00C828.02,686.00 833.13,686.00 838.24,686.00C843.34,686.00 848.45,686.00 853.56,686.00C858.67,686.00 863.77,686.00 868.88,686.00C873.99,686.00 879.10,686.00 884.21,686.00C889.31,686.00 894.42,686.00 899.53,686.00C904.64,686.00 909.75,686.00 914.85,686.00C919.96,686.00 925.07,686.00 930.18,686.00C935.28,686.00 940.39,686.00 945.50,686.00C950.61,686.00 955.72,686.00 960.82,686.00C965.93,686.00 971.04,686.00 976.15,686.00C981.25,686.00 986.36,686.00 991.47,686.00C996.58,686.00 1001.69,686.00 1006.79,686.00C1011.90,686.00 1017.01,686.00 1022.12,686.00C1027.23,686.00 1032.33,686.00 1037.44,686.00C1042.55,686.00 1047.66,686.00 1052.76,686.00" fill="none" stroke="#e23670" stroke-width="2"/>
<path d="M1144.71,686.00C1149.81,686.00 1154.92,686.00 1160.03,686.00C1165.14,686.00 1170.25,686.00 1175.35,686.00C1180.46,686.00 1185.57,683.40 1190.68,683.40C1195.78,683.40 1200.89,684.70 1206.00,686.00" fill="none" stroke="#e23670" stroke-width="2"/>
<rect x="671.00" y="720.00" width="8" height="8" rx="2" fill="#2662d9"/>
<text x="685.33" y="727.00" font-size="12" fill="#fafafa" textLength="127.70" lengthAdjust="spacingAndGlyphs">gemini/gemini-2.0-flash</text>
<rect x="817.00" y="720.00" width="8" height="8" rx="2" fill="#2eb88a"/>
<text x="831.63" y="727.00" font-size="12" fill="#fafafa" textLength="120.10" lengthAdjust="spacingAndGlyphs">gemini/gemini-2.5-pro</text>
<rect x="956.00" y="720.00" width="8" height="8" rx="2" fill="#e88c30"/>
<text x="970.73" y="727.00" font-size="12" fill="#fafafa" textLength="78.00" lengthAdjust="spacingAndGlyphs">openai/gpt-4.1</text>
<rect x="1054.00" y="720.00" width="8" height="8" rx="2" fill="#af57db"/>
<text x="1068.93" y="727.00" font-size="12" fill="#fafafa" textLength="103.70" lengthAdjust="spacingAndGlyphs">openai/gpt-4o-mini</text>
<rect x="875.00" y="740.00" width="8" height="8" rx="2" fill="#e23670"/>
<text x="889.23" y="746.80" font-size="12" fill="#fafafa" textLength="78.00" lengthAdjust="spacingAndGlyphs">openai/gpt-5.1</text>
<rect x="1237.50" y="440.50" width="596.00" height="325" rx="8" fill="#0a0a0a" stroke="#262626"/>
<text x="1261.67" y="484.60" font-size="17" font-weight="700" fill="#fafafa" textLength="39.20" lengthAdjust="spacingAndGlyphs" stroke="#fafafa" stroke-width="0.5" stroke-linejoin="round">TPOT</text>
<text x="1809.00" y="476.10" font-size="12" font-weight="700" fill="#e5e5e5" text-anchor="end" textLength="69.90" lengthAdjust="spacing" stroke="#e5e5e5" stroke-width="0.3" stroke-linejoin="round">0.20 s/token</text>
<text x="1261.67" y="507.80" font-size="12" fill="#a3a3a3" textLength="121.70" lengthAdjust="spacing">Time per output token</text>
<rect x="1310.50" y="465.50" width="87" height="27" rx="6" fill="none" stroke="#262626"/>
<text x="1319.70" y="483.00" font-size="12" font-weight="700" fill="#e5e5e5" textLength="44.30" lengthAdjust="spacingAndGlyphs" stroke="#e5e5e5" stroke-width="0.3" stroke-linejoin="round">Average</text>
<polyline points="1376.80,476.90 1380.80,480.90 1384.80,476.90" fill="none" stroke="#fafafa" stroke-width="1.3" stroke-linecap="round" stroke-linejoin="round"/>
<line x1="1299.00" y1="686.00" x2="1820.00" y2="686.00" stroke="#1f1f1f"/>
<line x1="1299.00" y1="650.00" x2="1820.00" y2="650.00" stroke="#1f1f1f"/>
<line x1="1299.00" y1="614.00" x2="1820.00" y2="614.00" stroke="#1f1f1f"/>
<line x1="1299.00" y1="578.00" x2="1820.00" y2="578.00" stroke="#1f1f1f"/>
<line x1="1299.00" y1="542.00" x2="1820.00" y2="542.00" stroke="#1f1f1f"/>
<line x1="1299.00" y1="542.00" x2="1299.00" y2="686.00" stroke="#666666"/>
<line x1="1293.00" y1="686.00" x2="1299.00" y2="686.00" stroke="#666666"/>
<text x="1291.00" y="690.30" font-size="12" fill="#737373" text-anchor="end">0</text>
<line x1="1293.00" y1="650.00" x2="1299.00" y2="650.00" stroke="#666666"/>
<text x="1291.00" y="654.30" font-size="12" fill="#737373" text-anchor="end">0.035</text>
<line x1="1293.00" y1="614.00" x2="1299.00" y2="614.00" stroke="#666666"/>
<text x="1291.00" y="618.30" font-size="12" fill="#737373" text-anchor="end">0.07</text>
<line x1="1293.00" y1="578.00" x2="1299.00" y2="578.00" stroke="#666666"/>
<text x="1291.00" y="582.30" font-size="12" fill="#737373" text-anchor="end">0.105</text>
<line x1="1293.00" y1="542.00" x2="1299.00" y2="542.00" stroke="#666666"/>
<text x="1291.00" y="550.30" font-size="12" fill="#737373" text-anchor="end">0.14</text>
<text x="1299.00" y="709.00" font-size="12" fill="#737373" text-anchor="middle" textLength="35.30" lengthAdjust="spacingAndGlyphs">Oct 19</text>
<text x="1375.62" y="709.00" font-size="12" fill="#737373" text-anchor="middle" textLength="35.40" lengthAdjust="spacingAndGlyphs">Oct 24</text>
<text x="1452.24" y="709.00" font-size="12" fill="#737373" text-anchor="middle" textLength="35.30" lengthAdjust="spacingAndGlyphs">Oct 29</text>
<text x="1528.85" y="709.00" font-size="12" fill="#737373" text-anchor="middle" textLength="31.20" lengthAdjust="spacingAndGlyphs">Nov 3</text>
<text x="1605.47" y="709.00" font-size="12" fill="#737373" text-anchor="middle" textLength="30.70" lengthAdjust="spacingAndGlyphs">Nov 8</text>
<text x="1682.09" y="709.00" font-size="12" fill="#737373" text-anchor="middle" textLength="36.70" lengthAdjust="spacingAndGlyphs">Nov 12</text>
<text x="1805.68" y="709.00" font-size="12" fill="#737373" text-anchor="middle" textLength="37.10" lengthAdjust="spacingAndGlyphs">Nov 18</text>
<path d="M1299.00,686.00C1304.11,686.00 1309.22,686.00 1314.32,686.00C1319.43,686.00 1324.54,686.00 1329.65,686.00C1334.75,686.00 1339.86,686.00 1344.97,686.00C1350.08,686.00 1355.19,686.00 1360.29,686.00C1365.40,686.00 1370.51,686.00 1375.62,686.00C1380.73,686.00 1385.83,686.00 1390.94,686.00C1396.05,686.00 1401.16,686.00 1406.26,686.00C1411.37,686.00 1416.48,686.00 1421.59,686.00C1426.70,686.00 1431.80,686.00 1436.91,686.00C1442.02,686.00 1447.13,686.00 1452.24,686.00C1457.34,686.00 1462.45,686.00 1467.56,686.00C1472.67,686.00 1477.77,686.00 1482.88,686.00C1487.99,686.00 1493.10,686.00 1498.21,686.00C1503.31,686.00 1508.42,686.00 1513.53,686.00C1518.64,686.00 1523.75,686.00 1528.85,686.00C1533.96,686.00 1539.07,686.00 1544.18,686.00C1549.28,686.00 1554.39,686.00 1559.50,686.00C1564.61,686.00 1569.72,686.00 1574.82,686.00C1579.93,686.00 1585.04,686.00 1590.15,686.00C1595.25,686.00 1600.36,686.00 1605.47,686.00C1610.58,686.00 1615.69,686.00 1620.79,686.00C1625.90,686.00 1631.01,686.00 1636.12,686.00C1641.23,686.00 1646.33,686.00 1651.44,686.00C1656.55,686.00 1661.66,686.00 1666.76,686.00" fill="none" stroke="#2662d9" stroke-width="2"/>
<path d="M1728.06,686.00C1733.17,650.35 1738.27,614.70 1743.38,614.70C1748.49,614.70 1753.60,686.00 1758.71,686.00C1763.81,686.00 1768.92,686.00 1774.03,686.00C1779.14,686.00 1784.25,686.00 1789.35,686.00" fill="none" stroke="#2662d9" stroke-width="2"/>
<path d="M1299.00,686.00C1304.11,686.00 1309.22,686.00 1314.32,686.00C1319.43,686.00 1324.54,686.00 1329.65,686.00C1334.75,686.00 1339.86,686.00 1344.97,686.00C1350.08,686.00 1355.19,686.00 1360.29,686.00C1365.40,686.00 1370.51,686.00 1375.62,686.00C1380.73,686.00 1385.83,686.00 1390.94,686.00C1396.05,686.00 1401.16,686.00 1406.26,686.00C1411.37,686.00 1416.48,686.00 1421.59,686.00C1426.70,686.00 1431.80,686.00 1436.91,686.00C1442.02,686.00 1447.13,686.00 1452.24,686.00C1457.34,686.00 1462.45,686.00 1467.56,686.00C1472.67,686.00 1477.77,686.00 1482.88,686.00C1487.99,686.00 1493.10,686.00 1498.21,686.00C1503.31,686.00 1508.42,686.00 1513.53,686.00C1518.64,686.00 1523.75,686.00 1528.85,686.00C1533.96,686.00 1539.07,686.00 1544.18,686.00C1549.28,686.00 1554.39,686.00 1559.50,686.00C1564.61,686.00 1569.72,686.00 1574.82,686.00C1579.93,686.00 1585.04,686.00 1590.15,686.00C1595.25,686.00 1600.36,686.00 1605.47,686.00C1610.58,686.00 1615.69,686.00 1620.79,686.00C1625.90,686.00 1631.01,686.00 1636.12,686.00C1641.23,686.00 1646.33,686.00 1651.44,686.00C1656.55,686.00 1661.66,686.00 1666.76,686.00" fill="none" stroke="#2eb88a" stroke-width="2"/>
<path d="M1697.41,686.00C1702.52,681.10 1707.63,676.20 1712.74,676.20C1717.84,676.20 1722.95,681.10 1728.06,686.00" fill="none" stroke="#2eb88a" stroke-width="2"/>
<path d="M1758.71,686.00C1763.81,686.00 1768.92,686.00 1774.03,686.00C1779.14,686.00 1784.25,686.00 1789.35,686.00" fill="none" stroke="#2eb88a" stroke-width="2"/>
<path d="M1299.00,686.00C1304.11,686.00 1309.22,686.00 1314.32,686.00C1319.43,686.00 1324.54,686.00 1329.65,686.00C1334.75,686.00 1339.86,686.00 1344.97,686.00C1350.08,686.00 1355.19,686.00 1360.29,686.00C1365.40,686.00 1370.51,686.00 1375.62,686.00C1380.73,686.00 1385.83,686.00 1390.94,686.00C1396.05,686.00 1401.16,686.00 1406.26,686.00C1411.37,686.00 1416.48,686.00 1421.59,686.00C1426.70,686.00 1431.80,686.00 1436.91,686.00C1442.02,686.00 1447.13,686.00 1452.24,686.00C1457.34,686.00 1462.45,686.00 1467.56,686.00C1472.67,686.00 1477.77,686.00 1482.88,686.00C1487.99,686.00 1493.10,686.00 1498.21,686.00C1503.31,686.00 1508.42,686.00 1513.53,686.00C1518.64,686.00 1523.75,686.00 1528.85,686.00C1533.96,686.00 1539.07,686.00 1544.18,686.00C1549.28,686.00 1554.39,686.00 1559.50,686.00C1564.61,686.00 1569.72,686.00 1574.82,686.00C1579.93,686.00 1585.04,686.00 1590.15,686.00C1595.25,686.00 1600.36,686.00 1605.47,686.00C1610.58,686.00 1615.69,686.00 1620.79,686.00C1625.90,686.00 1631.01,686.00 1636.12,686.00C1641.23,686.00 1646.33,686.00 1651.44,686.00C1656.55,686.00 1661.66,686.00 1666.76,686.00" fill="none" stroke="#e88c30" stroke-width="2"/>
<path d="M1758.71,686.00C1763.81,686.00 1768.92,686.00 1774.03,686.00C1779.14,686.00 1784.25,686.00 1789.35,686.00" fill="none" stroke="#e88c30" stroke-width="2"/>
<path d="M1299.00,686.00C1304.11,686.00 1309.22,686.00 1314.32,686.00C1319.43,686.00 1324.54,686.00 1329.65,686.00C1334.75,686.00 1339.86,686.00 1344.97,686.00C1350.08,686.00 1355.19,686.00 1360.29,686.00C1365.40,686.00 1370.51,686.00 1375.62,686.00C1380.73,686.00 1385.83,686.00 1390.94,686.00C1396.05,686.00 1401.16,686.00 1406.26,686.00C1411.37,686.00 1416.48,686.00 1421.59,686.00C1426.70,686.00 1431.80,686.00 1436.91,686.00C1442.02,686.00 1447.13,686.00 1452.24,686.00C1457.34,686.00 1462.45,686.00 1467.56,686.00C1472.67,686.00 1477.77,686.00 1482.88,686.00C1487.99,686.00 1493.10,686.00 1498.21,686.00C1503.31,686.00 1508.42,686.00 1513.53,686.00C1518.64,686.00 1523.75,686.00 1528.85,686.00C1533.96,686.00 1539.07,686.00 1544.18,686.00C1549.28,686.00 1554.39,686.00 1559.50,686.00C1564.61,686.00 1569.72,686.00 1574.82,686.00C1579.93,686.00 1585.04,686.00 1590.15,686.00C1595.25,686.00 1600.36,686.00 1605.47,686.00C1610.58,686.00 1615.69,686.00 1620.79,686.00C1625.90,686.00 1631.01,686.00 1636.12,686.00C1641.23,686.00 1646.33,686.00 1651.44,686.00C1656.55,686.00 1661.66,686.00 1666.76,686.00C1671.87,686.00 1676.98,563.10 1682.09,563.10C1687.20,563.10 1692.30,686.00 1697.41,686.00C1702.52,686.00 1707.63,542.40 1712.74,542.40C1717.84,542.40 1722.95,686.00 1728.06,686.00C1733.17,686.00 1738.27,635.20 1743.38,635.20C1748.49,635.20 1753.60,686.00 1758.71,686.00C1763.81,686.00 1768.92,686.00 1774.03,686.00C1779.14,686.00 1784.25,686.00 1789.35,686.00C1794.46,686.00 1799.57,665.80 1804.68,665.80C1809.78,665.80 1814.89,675.90 1820.00,686.00" fill="none" stroke="#af57db" stroke-width="2"/>
<path d="M1299.00,686.00C1304.11,686.00 1309.22,686.00 1314.32,686.00C1319.43,686.00 1324.54,686.00 1329.65,686.00C1334.75,686.00 1339.86,686.00 1344.97,686.00C1350.08,686.00 1355.19,686.00 1360.29,686.00C1365.40,686.00 1370.51,686.00 1375.62,686.00C1380.73,686.00 1385.83,686.00 1390.94,686.00C1396.05,686.00 1401.16,686.00 1406.26,686.00C1411.37,686.00 1416.48,686.00 1421.59,686.00C1426.70,686.00 1431.80,686.00 1436.91,686.00C1442.02,686.00 1447.13,686.00 1452.24,686.00C1457.34,686.00 1462.45,686.00 1467.56,686.00C1472.67,686.00 1477.77,686.00 1482.88,686.00C1487.99,686.00 1493.10,686.00 1498.21,686.00C1503.31,686.00 1508.42,686.00 1513.53,686.00C1518.64,686.00 1523.75,686.00 1528.85,686.00C1533.96,686.00 1539.07,686.00 1544.18,686.00C1549.28,686.00 1554.39,686.00 1559.50,686.00C1564.61,686.00 1569.72,686.00 1574.82,686.00C1579.93,686.00 1585.04,686.00 1590.15,686.00C1595.25,686.00 1600.36,686.00 1605.47,686.00C1610.58,686.00 1615.69,686.00 1620.79,686.00C1625.90,686.00 1631.01,686.00 1636.12,686.00C1641.23,686.00 1646.33,686.00 1651.44,686.00C1656.55,686.00 1661.66,686.00 1666.76,686.00" fill="none" stroke="#e23670" stroke-width="2"/>
<path d="M1758.71,686.00C1763.81,686.00 1768.92,686.00 1774.03,686.00C1779.14,686.00 1784.25,686.00 1789.35,686.00C1794.46,686.00 1799.57,645.40 1804.68,645.40C1809.78,645.40 1814.89,665.70 1820.00,686.00" fill="none" stroke="#e23670" stroke-width="2"/>
<rect x="1284.00" y="720.00" width="8" height="8" rx="2" fill="#2662d9"/>
<text x="1298.67" y="727.00" font-size="12" fill="#fafafa" textLength="127.70" lengthAdjust="spacingAndGlyphs">gemini/gemini-2.0-flash</text>
<rect x="1431.00" y="720.00" width="8" height="8" rx="2" fill="#2eb88a"/>
<text x="1444.97" y="727.00" font-size="12" fill="#fafafa" textLength="120.10" lengthAdjust="spacingAndGlyphs">gemini/gemini-2.5-pro</text>
<rect x="1570.00" y="720.00" width="8" height="8" rx="2" fill="#e88c30"/>
<text x="1584.07" y="727.00" font-size="12" fill="#fafafa" textLength="78.00" lengthAdjust="spacingAndGlyphs">openai/gpt-4.1</text>
<rect x="1668.00" y="720.00" width="8" height="8" rx="2" fill="#af57db"/>
<text x="1682.27" y="727.00" font-size="12" fill="#fafafa" textLength="103.70" lengthAdjust="spacingAndGlyphs">openai/gpt-4o-mini</text>
<rect x="1488.00" y="740.00" width="8" height="8" rx="2" fill="#e23670"/>
<text x="1502.57" y="746.80" font-size="12" fill="#fafafa" textLength="78.00" lengthAdjust="spacingAndGlyphs">openai/gpt-5.1</text>
<rect x="10.50" y="782.50" width="596.00" height="325" rx="8" fill="#0a0a0a" stroke="#262626"/>
<text x="35.00" y="825.00" font-size="17" font-weight="700" fill="#fafafa" textLength="88.00" lengthAdjust="spacingAndGlyphs" stroke="#fafafa" stroke-width="0.5" stroke-linejoin="round">No of Errors</text>
<text x="582.33" y="818.10" font-size="12" font-weight="700" fill="#e5e5e5" text-anchor="end" textLength="59.60" lengthAdjust="spacing" stroke="#e5e5e5" stroke-width="0.3" stroke-linejoin="round">0 requests</text>
<text x="35.00" y="846.20" font-size="12" fill="#a3a3a3" textLength="241.60" lengthAdjust="spacing">Number of requests that resulted in an error</text>
<line x1="72.00" y1="1028.00" x2="593.00" y2="1028.00" stroke="#1f1f1f"/>
<line x1="72.00" y1="991.00" x2="593.00" y2="991.00" stroke="#1f1f1f"/>
<line x1="72.00" y1="954.00" x2="593.00" y2="954.00" stroke="#1f1f1f"/>
<line x1="72.00" y1="917.00" x2="593.00" y2="917.00" stroke="#1f1f1f"/>
<line x1="72.00" y1="880.00" x2="593.00" y2="880.00" stroke="#1f1f1f"/>
<line x1="72.00" y1="880.00" x2="72.00" y2="1028.00" stroke="#666666"/>
<line x1="66.00" y1="1028.00" x2="72.00" y2="1028.00" stroke="#666666"/>
<text x="64.00" y="1032.30" font-size="12" fill="#737373" text-anchor="end">0</text>
<line x1="66.00" y1="991.00" x2="72.00" y2="991.00" stroke="#666666"/>
<text x="64.00" y="995.30" font-size="12" fill="#737373" text-anchor="end">1</text>
<line x1="66.00" y1="954.00" x2="72.00" y2="954.00" stroke="#666666"/>
<text x="64.00" y="958.30" font-size="12" fill="#737373" text-anchor="end">2</text>
<line x1="66.00" y1="917.00" x2="72.00" y2="917.00" stroke="#666666"/>
<text x="64.00" y="921.30" font-size="12" fill="#737373" text-anchor="end">3</text>
<line x1="66.00" y1="880.00" x2="72.00" y2="880.00" stroke="#666666"/>
<text x="64.00" y="888.30" font-size="12" fill="#737373" text-anchor="end">4</text>
<rect x="623.50" y="782.50" width="597.00" height="325" rx="8" fill="#0a0a0a" stroke="#262626"/>
<text x="648.33" y="825.00" font-size="17" font-weight="700" fill="#fafafa" textLength="74.40" lengthAdjust="spacingAndGlyphs" stroke="#fafafa" stroke-width="0.5" stroke-linejoin="round">Error Rate</text>
<text x="1195.67" y="818.10" font-size="12" font-weight="700" fill="#e5e5e5" text-anchor="end" textLength="34.40" lengthAdjust="spacing" stroke="#e5e5e5" stroke-width="0.3" stroke-linejoin="round">0.00%</text>
<text x="648.33" y="846.20" font-size="12" fill="#a3a3a3" textLength="259.40" lengthAdjust="spacing">Percentage of requests that resulted in an error</text>
<line x1="685.00" y1="1028.00" x2="1206.00" y2="1028.00" stroke="#1f1f1f"/>
<line x1="685.00" y1="991.00" x2="1206.00" y2="991.00" stroke="#1f1f1f"/>
<line x1="685.00" y1="954.00" x2="1206.00" y2="954.00" stroke="#1f1f1f"/>
<line x1="685.00" y1="917.00" x2="1206.00" y2="917.00" stroke="#1f1f1f"/>
<line x1="685.00" y1="880.00" x2="1206.00" y2="880.00" stroke="#1f1f1f"/>
<line x1="685.00" y1="880.00" x2="685.00" y2="1028.00" stroke="#666666"/>
<line x1="679.00" y1="1028.00" x2="685.00" y2="1028.00" stroke="#666666"/>
<text x="677.00" y="1032.30" font-size="12" fill="#737373" text-anchor="end">0</text>
<line x1="679.00" y1="991.00" x2="685.00" y2="991.00" stroke="#666666"/>
<text x="677.00" y="995.30" font-size="12" fill="#737373" text-anchor="end">1</text>
<line x1="679.00" y1="954.00" x2="685.00" y2="954.00" stroke="#666666"/>
<text x="677.00" y="958.30" font-size="12" fill="#737373" text-anchor="end">2</text>
<line x1="679.00" y1="917.00" x2="685.00" y2="917.00" stroke="#666666"/>
<text x="677.00" y="921.30" font-size="12" fill="#737373" text-anchor="end">3</text>
<line x1="679.00" y1="880.00" x2="685.00" y2="880.00" stroke="#666666"/>
<text x="677.00" y="888.30" font-size="12" fill="#737373" text-anchor="end">4</text>
<rect x="1237.50" y="782.50" width="596.00" height="325" rx="8" fill="#0a0a0a" stroke="#262626"/>
<text x="1261.67" y="825.00" font-size="17" font-weight="700" fill="#fafafa" textLength="84.50" lengthAdjust="spacingAndGlyphs" stroke="#fafafa" stroke-width="0.5" stroke-linejoin="round">No of Users</text>
<text x="1809.00" y="818.10" font-size="12" font-weight="700" fill="#e5e5e5" text-anchor="end" textLength="40.70" lengthAdjust="spacing" stroke="#e5e5e5" stroke-width="0.3" stroke-linejoin="round">0 users</text>
<text x="1261.67" y="846.20" font-size="12" fill="#a3a3a3" textLength="173.00" lengthAdjust="spacing">Unique users with identification</text>
<line x1="1299.00" y1="1028.00" x2="1820.00" y2="1028.00" stroke="#1f1f1f"/>
<line x1="1299.00" y1="991.00" x2="1820.00" y2="991.00" stroke="#1f1f1f"/>
<line x1="1299.00" y1="954.00" x2="1820.00" y2="954.00" stroke="#1f1f1f"/>
<line x1="1299.00" y1="917.00" x2="1820.00" y2="917.00" stroke="#1f1f1f"/>
<line x1="1299.00" y1="880.00" x2="1820.00" y2="880.00" stroke="#1f1f1f"/>
<line x1="1299.00" y1="880.00" x2="1299.00" y2="1028.00" stroke="#666666"/>
<line x1="1293.00" y1="1028.00" x2="1299.00" y2="1028.00" stroke="#666666"/>
<text x="1291.00" y="1032.30" font-size="12" fill="#737373" text-anchor="end">0</text>
<line x1="1293.00" y1="991.00" x2="1299.00" y2="991.00" stroke="#666666"/>
<text x="1291.00" y="995.30" font-size="12" fill="#737373" text-anchor="end">1</text>
<line x1="1293.00" y1="954.00" x2="1299.00" y2="954.00" stroke="#666666"/>
<text x="1291.00" y="958.30" font-size="12" fill="#737373" text-anchor="end">2</text>
<line x1="1293.00" y1="917.00" x2="1299.00" y2="917.00" stroke="#666666"/>
<text x="1291.00" y="921.30" font-size="12" fill="#737373" text-anchor="end">3</text>
<line x1="1293.00" y1="880.00" x2="1299.00" y2="880.00" stroke="#666666"/>
<text x="1291.00" y="888.30" font-size="12" fill="#737373" text-anchor="end">4</text>
</g>
<rect x="-10" y="250.5" width="81.5" height="33" rx="6" fill="#0a0a0a" stroke="#262626"/>
<text x="3.00" y="272.00" font-size="14" fill="#fafafa" textLength="56.70" lengthAdjust="spacingAndGlyphs">Analytics</text>
</svg>
</body></html>
